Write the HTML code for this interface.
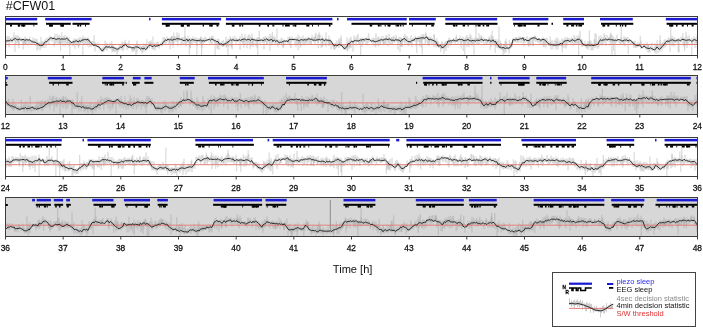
<!DOCTYPE html>
<html><head><meta charset="utf-8"><title>CFW01</title>
<style>
html,body{margin:0;padding:0;background:#fff;}
body{width:703px;height:327px;overflow:hidden;}
svg{display:block;font-family:"Liberation Sans",sans-serif;filter:blur(0.3px);}
</style></head><body>
<svg width="703" height="327" viewBox="0 0 703 327">
<rect width="703" height="327" fill="#fff"/>
<text x="5.8" y="10" font-size="12.5" fill="#111">#CFW01</text>
<path d="M6 39.7V47.7M7 36V43.1M8 37V41.8M9 36V47.3M10 38.4V41.9M11 38V41.9M12 37.4V40.8M13 37.5V42.4M14 37.5V40.3M15 36.6V41.4M16 35.1V44.2M17 38.5V42.8M18 36.4V42.8M19 38.5V45.6M20 36.7V40.2M21 38.5V41.4M22 38.6V41.9M23 38.5V45.2M24 38.9V43.4M25 36.5V43.8M26 38.1V44.3M27 38.1V41.4M28 39.5V45.8M29 39.9V42M30 39.1V44.8M31 40.1V44.1M32 39.8V44M33 37.5V42.8M34 40.4V45M35 38.4V43.5M36 39V45.9M37 39.1V50.6M38 42.9V48.9M39 42.3V46M40 42.4V50.5M41 36.9V48.5M42 41.4V47.9M43 40.8V46.5M44 41.8V48M45 39.7V43.8M46 38.8V47.6M47 37.5V43.5M48 39V41.6M49 36.9V45.1M50 36.3V40.4M51 36.5V40.6M52 36.9V41.8M53 37.6V39.2M54 36.5V46.6M55 33.6V40.4M56 38.1V43.1M57 34.1V42.8M58 36.4V43.8M59 35.2V43.8M60 35.7V45M61 37.9V43.8M62 38V42.9M63 36.4V46.2M64 36.4V42.2M65 35V46.4M66 37V43.6M67 36.3V44.5M68 36.9V40.8M69 37.5V46.8M70 40.1V44.1M71 41V43.2M72 41V44.1M73 40.1V46.7M74 38.2V44.4M75 39.4V48.9M76 38.6V45.7M77 39V45M78 38.6V42.2M79 38.6V47.1M80 36.8V42.7M81 39.5V43.2M82 38.6V43M83 35.7V41.6M84 37.5V45.2M85 37.8V45M86 37.5V44.9M87 38.5V41.1M88 37.7V42.2M89 39.2V43.9M90 40.7V42.7M91 41.8V47M92 41V44.4M93 41.2V45.9M94 35V46.6M95 41.6V51.5M96 43.2V46.9M97 43.8V46.7M98 42.7V47.6M99 45.7V48.4M100 46.1V49.8M101 48.7V51.5M102 47.9V51.4M103 46.5V52.4M104 47.4V51.3M105 40.6V49.6M106 43.9V50M107 42.5V50.7M108 46.4V48.3M109 44.9V48.5M110 42.7V48.7M111 46.2V49.1M112 45V52.4M113 44.8V51.2M114 45.6V51.1M115 47.2V52.4M116 47V51.5M117 48.6V54.8M118 47.2V52.1M119 45.6V50.2M120 45.1V49.9M121 45.1V48.2M122 43.3V50.1M123 43.8V51.1M124 42V49.4M125 39.7V46.4M126 42.4V47M127 43.7V50.1M128 43.1V48.3M129 40.4V47.8M130 45.8V48.3M131 46.1V48.5M132 47.2V51.2M133 46.5V49.9M134 45.1V51.5M135 44.7V50.1M136 46.4V55M137 40.6V52.7M138 44.1V48.7M139 45.4V48.5M140 45.6V49.5M141 46.2V51.5M142 46.6V53.6M143 45.7V52.6M144 47.1V50.4M145 43.8V51.7M146 45.2V50M147 46.9V50.4M148 45.7V47.9M149 41.1V47.6M150 41.8V47.2M151 42.1V46.1M152 43.4V49M153 44.6V49.6M154 42.8V49.6M155 44.2V50.5M156 42.8V47M157 42V47.5M158 41.4V47.4M159 45V48.7M160 45V46.4M161 42.6V45.6M162 41.4V46.5M163 37.5V43.3M164 37V42.6M165 37.9V44.3M166 38.2V43.6M167 36.5V41.1M168 38.9V41.6M169 38.6V44.8M170 37.1V49.1M171 37.3V40.6M172 35.9V45M173 36.4V44.6M174 37.2V43.4M175 36.2V41M176 36.8V42.4M177 32.2V41.6M178 35.7V40.7M179 33.4V41.3M180 37.9V40.2M181 38.5V45.3M182 37.3V44.3M183 36.9V41M184 38.2V44.2M185 35.8V43.1M186 37.9V46.7M187 38.1V43.3M188 35.8V42.8M189 39.3V41.5M190 37.8V47.7M191 38.1V44.2M192 37.9V44.4M193 36.5V42M194 39.6V43.2M195 37.6V42.9M196 37.6V43M197 38V46.1M198 39.3V41.5M199 37.9V41.9M200 38.5V42.5M201 36.6V43.6M202 38.9V47.5M203 38.1V45M204 38.1V41.4M205 36.6V42.8M206 37.9V42M207 39.4V41.3M208 38.9V40.8M209 39.3V42.2M210 36.6V42.9M211 37.8V44.8M212 35.6V43.9M213 35.9V41M214 39.3V42.3M215 38.6V42.8M216 40.7V43.8M217 39.3V48.6M218 38.6V44.3M219 39V49.9M220 42.3V45.3M221 42.8V45.7M222 40.8V46.5M223 44.9V46.7M224 42.9V46.7M225 41.6V45.3M226 36.8V45.2M227 40.5V43.3M228 38.8V44M229 38.8V46.8M230 36V41.8M231 37.6V46.5M232 38.4V49.2M233 36.6V40.3M234 38.9V42.1M235 36.1V41.3M236 38.6V43.9M237 38.1V42.5M238 38.7V41.4M239 39.2V42M240 35.8V49.7M241 39.2V41.4M242 33.8V41.5M243 38.1V41.9M244 36.8V40.8M245 34.2V44.5M246 38.2V40.9M247 37.3V48.2M248 35.2V43.7M249 34.3V42.2M250 35.5V43.7M251 36.8V46.3M252 33.5V42.2M253 39V47M254 37.5V43.8M255 38.5V41M256 39.2V46.1M257 37.4V48.2M258 37.3V42.5M259 37.1V41.6M260 38.6V43.8M261 39.1V41.2M262 38.9V42.7M263 37.1V42.7M264 36.8V49.3M265 36.2V42.4M266 37.2V40.5M267 38.8V44.5M268 36.4V40.9M269 37.3V42.9M270 33.9V41.1M271 35.4V45.5M272 38.6V45.1M273 37.2V43.2M274 35.8V41.4M275 37.1V45M276 38.8V45M277 40.2V44.6M278 40.3V47.3M279 39.4V44M280 40.2V44.8M281 38.2V43.1M282 37.9V45.5M283 41V48.3M284 39.3V42.2M285 40.5V43.8M286 39.9V42.4M287 39.9V41.4M288 36.6V42.9M289 38.2V43.4M290 37.4V46.4M291 38.6V48M292 36.4V41.2M293 38V40.7M294 38.5V41.6M295 39.5V44.8M296 37.1V47M297 37.5V44.8M298 34.5V43M299 36.3V44.5M300 38.9V44.7M301 36.8V46.3M302 39V42M303 35.4V44.5M304 38.1V45.5M305 37.4V43.4M306 37.7V43.7M307 38.1V43.5M308 36.6V42M309 37.1V44.5M310 38.5V42.6M311 37.8V44.7M312 35V40.1M313 37.6V41.2M314 38.8V42.2M315 36.2V45.3M316 32.8V40.9M317 38.4V41.7M318 34.5V43.1M319 34.7V40.5M320 34.5V40.9M321 38.7V47.8M322 35.7V41.4M323 38.7V46.3M324 38V40.6M325 38.3V45.3M326 38V47.1M327 39.2V41.6M328 39.1V43.4M329 35.7V43.6M330 38.9V44.9M331 39.8V49.3M332 41.3V44.2M333 42.9V47.3M334 44.2V48.9M335 43.3V49.6M336 42.4V47.9M337 40.3V46.4M338 43.8V46.5M339 38.1V48M340 42.3V46.6M341 38.2V46M342 44.7V47.1M343 44.6V48.2M344 45.5V49.8M345 44.6V49.9M346 45.8V50.4M347 37.5V49.8M348 41.8V47.3M349 39.6V49.2M350 38.1V47.7M351 36.7V48M352 40.5V43.6M353 39.9V51.7M354 35.4V42.5M355 38V41.3M356 37.4V44.2M357 35.3V42M358 33.7V41.3M359 39.4V43.8M360 37.8V41.1M361 38.4V41.3M362 37.4V46.8M363 38.6V44.1M364 37.8V41.8M365 38.2V41.2M366 39.1V40.4M367 38V45.4M368 39V43.5M369 37.8V41.7M370 38.9V41.9M371 39.6V42M372 38.4V43M373 38.2V43.4M374 37.4V46.3M375 38.4V42.9M376 33.3V45.3M377 38.2V41.7M378 36.4V46.2M379 37.6V45.7M380 39.2V42.7M381 36.5V42.3M382 38.1V41.5M383 36.1V44.4M384 39V44.1M385 37.7V44.5M386 35.4V43.5M387 35.5V41.1M388 37.8V46.5M389 33.7V40.8M390 38V44.7M391 38V44.3M392 37.1V41.8M393 36.5V41.9M394 38.4V42.8M395 38.5V42.4M396 35.1V41M397 38.7V41.8M398 39.4V49.7M399 36.6V42.4M400 37V41.4M401 37.3V44.3M402 38.3V47M403 38.1V42.2M404 36.1V39.9M405 33.9V42.4M406 36V40.5M407 36V43.6M408 37.8V46M409 40.5V45.7M410 38.5V43M411 35.3V44.3M412 38.9V47.1M413 37.9V41.3M414 38.4V41.6M415 36.1V41.5M416 37.5V40.4M417 37.3V41.3M418 36.2V41.7M419 36.4V42.4M420 35.8V41.2M421 37V42.7M422 34.2V40.2M423 34.5V39.9M424 34.3V39.8M425 37V38.6M426 33.5V42.7M427 36V39.1M428 37.2V45.3M429 36.4V40.3M430 36.9V42M431 36.7V44.8M432 38.3V42.8M433 39.7V44.1M434 34.4V47.2M435 39.3V44.2M436 41.6V47.3M437 40.6V46.6M438 42.1V47.5M439 45.9V47.9M440 46.1V48.2M441 45.8V49.3M442 41.4V49M443 45.6V48.7M444 43.5V54.1M445 41.3V48.4M446 41.5V51M447 40.6V44.6M448 40.2V48M449 37.5V43.9M450 38.4V46.1M451 40.4V44M452 39.2V42.6M453 39.6V43M454 37.8V41.5M455 39.1V45M456 37V41.8M457 38.7V41.8M458 39V43.8M459 38.6V41.4M460 35.6V41.8M461 38.5V44.5M462 38.9V41.5M463 36.6V42.4M464 38.9V42.2M465 38.1V45.3M466 36.4V42.4M467 35V46.8M468 37.2V43.8M469 36.9V41M470 39.3V44.7M471 35.3V43.1M472 37.5V46M473 39.7V44M474 38.9V43.1M475 37.4V41.1M476 38.5V43.8M477 38V43.6M478 37.9V44.1M479 33.3V44M480 37.4V42.2M481 35.2V43M482 39.9V42.7M483 38.9V41.6M484 37.4V45.5M485 39.5V41.3M486 38.9V44.1M487 39V44M488 38.6V42.9M489 36.5V43.5M490 38.3V42.2M491 34.9V47M492 37.3V44.2M493 36.3V45.1M494 39.5V45.9M495 39.1V41.5M496 39.2V46.7M497 41V48.1M498 39.4V46.9M499 45.8V48.5M500 43.7V49.8M501 43V49.1M502 46.7V49.7M503 45.8V50.3M504 44.8V51.8M505 41.1V53.5M506 41.3V52M507 45V49.2M508 47.1V49.3M509 47.1V53.5M510 45.5V49.7M511 42.5V47.7M512 41.2V46.3M513 38.2V43.1M514 38.9V41.4M515 37V42.5M516 37.2V40.8M517 37.4V43.1M518 37.9V42.2M519 36.4V42.6M520 36.8V39.8M521 36.8V43.2M522 38.4V41.1M523 37V43.3M524 38.5V46.3M525 39.2V42.7M526 38.5V41.5M527 35.9V40.9M528 39.4V43.8M529 38V44M530 37.3V46M531 37V44.1M532 38V40M533 36.9V46.4M534 36.7V40.2M535 35.7V41.8M536 37.2V40.9M537 38.2V41.8M538 38.6V43.1M539 37.7V41.9M540 39V43.7M541 39.7V41.3M542 38.4V42.1M543 36.9V45.7M544 38.9V47.2M545 38.1V42.6M546 38.2V43.2M547 38V43M548 40.9V44.9M549 41.7V46.1M550 43V46.5M551 43.3V49.6M552 39.8V45.6M553 43.7V49.3M554 40.8V45.9M555 39.2V46.9M556 41V49.8M557 41V47.3M558 38.3V49.5M559 41.9V46.3M560 40.3V45.5M561 43.2V46M562 38.3V46.5M563 39.5V47.7M564 39.5V45.2M565 37.2V47.8M566 39.2V48.6M567 37.1V41.6M568 37.5V43.5M569 38.1V41.5M570 39V42.1M571 38.2V43.6M572 39.1V44.7M573 39.8V42.9M574 35V45.7M575 36.7V44.5M576 37.9V43.4M577 35.7V40.8M578 37.9V43.2M579 34.7V44M580 30.8V41.5M581 39.2V43.5M582 39.1V46.9M583 43.3V46.5M584 42.9V45.8M585 40.7V46.4M586 44.1V47.8M587 43.3V47.5M588 41.1V49.7M589 41.3V47.8M590 42.8V46.6M591 40.7V50.2M592 43.1V50.2M593 44.2V50.2M594 39.4V48.2M595 33.5V45.5M596 43.4V48.3M597 42.6V47M598 40.8V48.8M599 35.8V47.3M600 38.2V42.9M601 35.5V44.4M602 38.4V45.6M603 37.2V45M604 33.2V41.9M605 34.7V42.9M606 38.6V45.7M607 34.9V41.1M608 37.7V40.6M609 36.8V42.1M610 35.3V45.7M611 33.7V41.7M612 34.7V43.6M613 36V41.6M614 38.7V41M615 37.9V43.7M616 38.9V42.8M617 34.7V41.5M618 38.9V40.9M619 39.5V42.8M620 38.8V43.9M621 37.3V45.2M622 39.7V42.4M623 38.7V44.1M624 36.2V45.5M625 37.2V46.4M626 37.9V42M627 36.8V42M628 37.3V42.7M629 39.3V41.4M630 39.3V43.2M631 39.5V45M632 40.6V44M633 41.4V44.4M634 40.9V48M635 40.7V46.3M636 44.1V47.8M637 43.9V47.6M638 42.4V46.8M639 43.4V47.2M640 43V46.9M641 40.5V49.3M642 45.7V48.7M643 46V47.9M644 43.2V48.3M645 43.9V47.9M646 44.9V50.2M647 42.2V49.6M648 43.8V52.5M649 45.1V52.4M650 47.2V52.4M651 45.4V49.5M652 42.6V50.9M653 48.5V50.7M654 46.8V50.6M655 43.3V52.5M656 47V54.1M657 43.8V48.4M658 44.1V53.2M659 46.2V50.1M660 40.4V52M661 45.3V49M662 43.6V50.4M663 42.2V47.8M664 40.4V48.4M665 39V46.8M666 41.2V46.7M667 40.1V44.4M668 38.5V43M669 37.3V44.8M670 38.5V43.5M671 37.7V42.5M672 35.6V41.3M673 39.7V44.6M674 37.5V46.9M675 39.5V42.5M676 38.7V42.3M677 38.7V42.7M678 39V43.4M679 38V52.6M680 39V40.8M681 36.5V42.9M682 38.6V40.7M683 37.5V45.4M684 37.7V47M685 37.6V46M686 31.8V42.9M687 36.1V48.1M688 38.9V44.4M689 35.4V41.6M690 38.6V41.7M691 39.4V41.2M692 37.7V43.7M693 39.7V41.2M694 36.2V41.3M695 37.7V48M696 39V42.7M697 36V44.4" fill="none" stroke="#cecece" stroke-width="1"/>
<path d="M5.8 41.3V45.4M10.1 40.4V41.7M11.7 40V43M13.9 39.5V32.3M15 39.3V52M17.9 39.4V35.2M18.8 39.4V48.2M21.7 39.5V40.8M23.2 39.5V49.4M24.9 39.6V44.1M25.9 39.9V43.9M29 40.6V42.4M29.8 40.9V36.5M37.2 43.6V45.9M41.3 45.3V42.5M44.8 42.8V43.8M54.9 39V44.4M59.9 39.6V44.9M60.7 39.6V50.7M61.8 39.6V32.2M67.9 39.6V43.7M69.9 41.3V55M70.7 42.1V44.2M75.1 42.1V41.1M77.3 41.4V42.5M78.3 41.1V48.5M78.8 40.8V45.6M79.8 40.5V41.8M80.9 40.4V43.6M82 40.3V37.9M82.9 40.2V55M87.3 39.7V45.9M88 39.6V37.3M89.1 40.6V47.7M91.9 43.7V45.9M93.8 45V46.1M100.2 48.5V49.6M103 49.9V48.5M106.3 47.3V45.9M111.8 47.3V41.1M113.2 47.8V52M122.1 46.6V41.2M125.1 44.7V43.6M132.9 48V52M137.1 47.4V43M139.2 47.7V46.4M140.9 48.4V47.4M143 49.1V45.9M143.9 49.4V43.1M146.8 47.8V39.3M149.3 45.7V48.3M151 45V40.2M152.9 45.7V36.6M153.8 46.1V43.6M163 42.5V44.6M164.9 40.5V42.3M170 39.9V43.1M170.9 39.7V41M171.7 39.6V36.2M173 39.5V47.9M173.8 39.3V32.4M177.9 38.7V46.3M184.9 40.5V26.5M186 40.5V42.5M189.2 40.5V54.7M190.2 40.5V48.3M196.9 40.5V55M200.1 40.5V44M200.9 40.5V36.6M201.7 40.5V55M204.2 40.5V42.4M211.8 39.6V37.7M215.1 40.9V55M217.9 42.2V48.7M222 44.9V46.4M223.3 45.6V40M226.2 43V47.5M226.7 42.2V47.3M228 41.3V55M231.9 39.9V47.3M237.1 39.8V41.5M241.3 40V42.2M242.1 39.9V42.2M243 39.9V45M243.9 39.8V47.8M245 39.8V41.9M250.1 39.5V48.9M252.3 39.6V44.3M252.9 39.7V41M257 40V42.1M257.8 40.1V55M259.2 40.1V31.1M259.7 40.2V38.1M264.9 39.8V42.3M266.9 39.6V44M268.9 39.5V40.8M269.9 39.4V50.7M272.3 39.9V32.1M275.8 40.9V42.5M277 41.2V28.4M283.2 41.7V46.5M283.8 41.4V46.6M288 40.3V44.5M288.9 40.1V42.7M289.8 39.8V36.2M290.8 39.9V41.3M298.1 40.4V50.3M300.2 40.5V47.8M304.9 39.9V41.7M307 39.6V41.3M311 39.3V44.9M313.7 39.4V37M315.2 39.5V34.6M317.2 39.6V38.2M318.2 39.7V48.3M319.1 39.7V32.3M322.2 39.8V47.4M322.7 39.9V43M325.1 39.9V41.3M326 39.9V32.3M329 40V46.1M330 40V44M333.2 43.8V45.3M334.1 45.1V50M334.8 46.4V43.5M339 45V40.6M341 45.4V35.4M344.8 48.1V46M347.7 43.9V51.7M350 42.9V47M353.8 41V44.9M359 40.1V44.6M360.7 40V55M361.8 39.9V42M363.9 39.7V42.1M365.9 39.8V44.9M367 39.9V36.7M368.8 40.3V33.1M373.8 41.1V42.6M375.7 41.1V47.4M378.9 40.6V38M380.3 40.5V44.1M383.8 39.8V44.2M385.2 39.6V41.3M386.3 39.7V38.2M388.8 39.8V41.9M390 39.9V41M391.3 40V37.3M392.3 40V45M394 40.1V35.7M396.1 40.3V37.3M397.8 40.4V41.4M398.8 40.4V42.3M400 40.5V52.3M400.8 40.1V47M401.8 39.8V46.1M404.8 38.7V45.2M405.8 39.6V41M407 40.5V41.9M410.9 41V42.9M413.1 39.9V41M414.2 39.3V41.4M416.1 38.6V46.2M416.8 38.5V53.1M419.8 38.3V46.6M421.2 38.2V47.8M422.2 38.1V54.4M425.1 37.9V44.6M425.8 38.1V32.2M428.1 38.6V44.3M429.2 38.9V46M429.8 39.1V40.5M434.1 41.2V34.8M435.1 42V40.9M435.7 43.5V45.2M436.8 45V38.2M438.2 46.5V41.3M438.8 46.7V44.6M440.8 47V52M442 47.2V42.3M444.1 47.5V45.4M448.8 41.2V42.6M450 41.1V42.3M451.3 41V44.6M454 40.6V41.9M456.3 40.4V34.8M457.8 40.1V38.6M461.1 39.7V48.6M463.3 39.7V50.9M464.8 39.9V55M468.8 40.4V47.3M470.1 40.5V33.5M472.1 40.5V44.1M474 40.5V54.6M476 40.5V27.1M479.1 40.5V39.2M481.8 40.5V35.8M490.1 40.5V49.9M490.8 40.5V42.4M492.1 40.5V30.5M495.2 40.5V52.9M495.8 42.2V45.4M497 44V41.4M499 47.5V26.5M500.2 47.8V40.5M501.2 48V43.1M503.1 48.5V55M504.2 48.3V44.7M506 47.8V38.7M509.3 49V39.8M511.1 46V47.4M511.9 43V46.8M512.9 40V41M515.1 39.6V41.5M517.3 39.3V41.4M522.8 39.4V37.7M524.9 39.8V37.1M528.1 40.5V46.1M528.8 40.1V46.8M532.9 38.6V46M535 37.9V35.5M539.1 40V41.6M540.9 40.3V44.3M543 40V38.4M543.9 39.8V46.7M545.9 40.9V48.4M550.1 44.3V36.4M550.9 44.7V41.4M556.8 45V37.3M560.2 44.3V45.4M561.1 44V42.2M562.2 43V52.4M564.8 41.2V42.5M566.8 40.5V46M569.9 40.5V42.6M571.2 40.5V38.9M572.1 40.5V37.2M575.1 40.5V39.4M577.1 39.8V44.9M578.7 39.1V55M581 40.7V46M581.8 42.7V45M582.9 44.7V43.1M586.9 45V48.9M589.3 45.1V30.3M589.9 45.2V40.6M595 44.9V39.7M596.2 44.8V33.8M610.7 39.7V32.7M611.9 39.8V55M613.3 39.9V50.9M614.9 40V55M621.2 40.5V26.5M623.2 40.6V42.6M628.2 40.7V53.8M629.1 40.8V42.3M633.1 43.4V45.3M633.8 44.7V46.6M635.7 46V47.8M640.2 45.8V35.7M644.8 46.5V44.5M648.2 49V45M656 48.3V45.2M657.1 47.5V40M660.1 48.5V35.2M662.1 46.8V42.7M667.3 41.2V43.4M670 40.5V51.6M670.8 40.5V26.5M672 40.5V46M674 40.5V37.3M675.9 40.4V42.7M678.2 40.1V51.7M682.8 39.7V33.2M684.7 39.9V51M687 40.2V44.8M691.8 40.5V55M692.9 40.5V45.2M694.9 40.5V38.8M696.2 40.5V43.1M697.2 40.5V47.6" fill="none" stroke="#b4b4b4" stroke-width="0.6"/>
<line x1="5.5" y1="44.5" x2="697.5" y2="44.5" stroke="#e67e78" stroke-width="1"/>
<path d="M5.5 41.3 6.8 40.8 8 40.9 9.2 40.8 10.5 39.9 11.8 40.6 13 40.2 14.2 39 15.5 38.4 16.8 39.5 18 40 19.2 39 20.5 39.8 21.8 39.8 23 39.2 24.2 40 25.5 40.1 26.8 39.5 28 40.3 29.2 39.5 30.5 40.6 31.8 41.4 33 42.1 34.2 42.1 35.5 42.5 36.8 43.3 38 43.4 39.2 45.3 40.5 45.6 41.8 45.3 43 45.2 44.2 43 45.5 41.7 46.8 41.7 48 40.3 49.2 39 50.5 37.9 51.8 38.1 53 39 54.2 37.9 55.5 39.3 56.8 39.3 58 38.8 59.2 38.6 60.5 39.3 61.8 38.9 63 39.1 64.2 39.1 65.5 39 66.8 38.1 68 39.6 69.2 40.5 70.5 41.6 71.8 42.9 73 41.5 74.2 42.3 75.5 40.8 76.8 40.9 78 42 79.2 40.7 80.5 41.4 81.8 40.1 83 40 84.2 39.6 85.5 39.6 86.8 39.7 88 39.3 89.2 41 90.5 42.1 91.8 43.6 93 45 94.2 45.3 95.5 44.9 96.8 46.4 98 46.6 99.2 47.2 100.5 48.9 101.8 50.8 103 50.6 104.2 48.7 105.5 46.8 106.8 46.9 108 47.2 109.2 46.8 110.5 47.6 111.8 47 113 47.5 114.2 48 115.5 48.4 116.8 49.2 118 49.2 119.2 48.2 120.5 47.1 121.8 47.6 123 45.7 124.2 45.3 125.5 44.3 126.8 45.9 128 47.1 129.2 47.1 130.5 47.2 131.8 47.9 133 47.5 134.2 48.2 135.5 46.9 136.8 47 138 47.2 139.2 48 140.5 49.1 141.8 48.1 143 49.2 144.2 48.1 145.5 49.4 146.8 48.7 148 46.5 149.2 45.3 150.5 45.3 151.8 46.2 153 46.7 154.2 45.5 155.5 46.2 156.8 46 158 45.6 159.2 45.3 160.5 44.4 161.8 44.5 163 42.6 164.2 41.1 165.5 40 166.8 40.6 168 38.9 169.2 40 170.5 39.3 171.8 40.2 173 40 174.2 39.3 175.5 39.4 176.8 38.6 178 38.9 179.2 38.8 180.5 39.4 181.8 39.4 183 40.5 184.2 40.5 185.5 40.2 186.8 39.1 188 41.1 189.2 39.3 190.5 40.6 191.8 39.9 193 39.7 194.2 40.1 195.5 40.4 196.8 40.5 198 40.7 199.2 40.6 200.5 39.8 201.8 41.3 203 40.4 204.2 41.1 205.5 40.5 206.8 40.1 208 39.9 209.2 39.1 210.5 40.1 211.8 39 213 39.7 214.2 40.3 215.5 40.8 216.8 41.7 218 41.5 219.2 43.9 220.5 44.1 221.8 43.8 223 45.1 224.2 44.2 225.5 43.9 226.8 42.6 228 42 229.2 41.1 230.5 39.9 231.8 40.3 233 39.6 234.2 40.4 235.5 40.4 236.8 40.3 238 40.6 239.2 39.6 240.5 40.4 241.8 39.5 243 39.3 244.2 39 245.5 39.4 246.8 40.2 248 39.3 249.2 39.5 250.5 40.5 251.8 38.8 253 39.7 254.2 39.8 255.5 40.3 256.8 40.2 258 40.5 259.2 40.5 260.5 40.3 261.8 39.9 263 40.8 264.2 39.7 265.5 39.9 266.8 38.7 268 40.2 269.2 40.2 270.5 39.8 271.8 39.4 273 41.5 274.2 39.9 275.5 41.2 276.8 40.7 278 41.3 279.2 42.9 280.5 42.3 281.8 42.2 283 41.3 284.2 40.9 285.5 41.2 286.8 41 288 41.5 289.2 39.5 290.5 39.5 291.8 39.4 293 39.6 294.2 39.3 295.5 39.6 296.8 40 298 39.9 299.2 41 300.5 39.8 301.8 39.6 303 40.3 304.2 39.7 305.5 39.8 306.8 39.9 308 38.9 309.2 38.9 310.5 39.3 311.8 39.3 313 40.3 314.2 40 315.5 40.3 316.8 39.9 318 39.8 319.2 39.5 320.5 39.9 321.8 39.2 323 39.3 324.2 40.9 325.5 39.8 326.8 40.2 328 40.2 329.2 40.3 330.5 40.6 331.8 42.4 333 44.5 334.2 45.6 335.5 45.1 336.8 45.9 338 45.1 339.2 44.3 340.5 45 341.8 45.5 343 47 344.2 48.7 345.5 48 346.8 46.9 348 43.7 349.2 43.8 350.5 42.3 351.8 41 353 42.2 354.2 40.7 355.5 40.6 356.8 40.9 358 41 359.2 40.7 360.5 39.9 361.8 40 363 39.3 364.2 40.1 365.5 38.9 366.8 39.4 368 39.5 369.2 39.3 370.5 40.5 371.8 41.3 373 40.5 374.2 41.4 375.5 41.6 376.8 41.4 378 40.9 379.2 40.6 380.5 39.9 381.8 39.7 383 40.3 384.2 39.3 385.5 39.1 386.8 39.2 388 39.6 389.2 38.8 390.5 39.6 391.8 40.4 393 39.9 394.2 40.7 395.5 39.7 396.8 40 398 39.9 399.2 40.2 400.5 41.5 401.8 39.7 403 39.7 404.2 38.2 405.5 39.7 406.8 40.4 408 41.7 409.2 41.6 410.5 41.8 411.8 40.6 413 40.2 414.2 40 415.5 38.2 416.8 38.7 418 38.6 419.2 38.4 420.5 37.9 421.8 37.9 423 37.6 424.2 38.3 425.5 37.6 426.8 36.9 428 39 429.2 39.7 430.5 39.4 431.8 39.9 433 40.3 434.2 40.9 435.5 41.4 436.8 43.7 438 46 439.2 46 440.5 45.3 441.8 47.5 443 47.5 444.2 46.4 445.5 45.7 446.8 43.8 448 41 449.2 41.1 450.5 40.6 451.8 41 453 39.8 454.2 40.5 455.5 40.8 456.8 40.9 458 39.8 459.2 39.3 460.5 39.5 461.8 39.3 463 40.2 464.2 40.7 465.5 40.3 466.8 40.1 468 39.4 469.2 40.4 470.5 40.8 471.8 40.9 473 40.2 474.2 40.6 475.5 41.1 476.8 40.2 478 40.2 479.2 40.5 480.5 39.8 481.8 38.9 483 40.7 484.2 40 485.5 40 486.8 40 488 41.2 489.2 39.7 490.5 41.2 491.8 41.2 493 39.8 494.2 41.8 495.5 41.5 496.8 44.1 498 44.9 499.2 47.3 500.5 47 501.8 48.3 503 47.2 504.2 48.1 505.5 48.4 506.8 47.9 508 48.2 509.2 48.1 510.5 46.7 511.8 44.3 513 39.6 514.2 39.7 515.5 39.9 516.8 39.1 518 39.9 519.2 39.2 520.5 38.7 521.8 38.8 523 37.7 524.2 40.5 525.5 39.2 526.8 40.8 528 40.3 529.2 40.7 530.5 38.9 531.8 38.3 533 37.8 534.2 37.9 535.5 38.2 536.8 39.1 538 39.8 539.2 38.7 540.5 40.3 541.8 39.9 543 39.3 544.2 39.7 545.5 40.4 546.8 42.1 548 43.5 549.2 44.1 550.5 44.8 551.8 44.6 553 44.9 554.2 45.1 555.5 45 556.8 45 558 44.6 559.2 44.9 560.5 43.1 561.8 44.4 563 42.7 564.2 41.2 565.5 40.7 566.8 40.6 568 40.3 569.2 41.3 570.5 41 571.8 40.2 573 39.6 574.2 41.1 575.5 40.8 576.8 39.8 578 39.3 579.2 39 580.5 40.1 581.8 42.5 583 44.5 584.2 45 585.5 45.3 586.8 45.3 588 44.8 589.2 45.3 590.5 45.4 591.8 45.1 593 45.6 594.2 45.3 595.5 45.2 596.8 44.4 598 44.3 599.2 41.5 600.5 39.7 601.8 40.6 603 39.8 604.2 40.1 605.5 38.8 606.8 40.1 608 39.7 609.2 39 610.5 39.8 611.8 39.7 613 40 614.2 40.3 615.5 40.2 616.8 40.5 618 39.5 619.2 39.7 620.5 40.2 621.8 40.9 623 40.9 624.2 40.1 625.5 40.2 626.8 39.9 628 41 629.2 40 630.5 40.5 631.8 41.5 633 43 634.2 43.8 635.5 45 636.8 45.4 638 45.6 639.2 44.9 640.5 45.8 641.8 47.9 643 46.7 644.2 45.9 645.5 47.5 646.8 48 648 48.3 649.2 48.6 650.5 47.9 651.8 48.7 653 49.2 654.2 49.9 655.5 49.3 656.8 47.1 658 47.9 659.2 49.4 660.5 48.7 661.8 46.9 663 45.5 664.2 44.6 665.5 42.4 666.8 40.9 668 41.1 669.2 41.5 670.5 40 671.8 40.1 673 39.7 674.2 41 675.5 40.7 676.8 40.3 678 39.9 679.2 40.1 680.5 40.9 681.8 39.4 683 39.6 684.2 39.7 685.5 40.3 686.8 40.2 688 40 689.2 39.8 690.5 40.2 691.8 41.5 693 40.2 694.2 39.6 695.5 40.1 696.8 40.7" fill="none" stroke="#1e1e1e" stroke-width="0.9"/>
<rect x="6" y="17.9" width="31.2" height="2.5" fill="#1a1ad2"/>
<rect x="45.2" y="17.9" width="46.4" height="2.5" fill="#1a1ad2"/>
<rect x="149" y="17.9" width="1.5" height="2.5" fill="#1a1ad2"/>
<rect x="161.9" y="17.9" width="59.2" height="2.5" fill="#1a1ad2"/>
<rect x="225.9" y="17.9" width="106.5" height="2.5" fill="#1a1ad2"/>
<rect x="337" y="17.9" width="1.5" height="2.5" fill="#1a1ad2"/>
<rect x="347" y="17.9" width="59.8" height="2.5" fill="#1a1ad2"/>
<rect x="409" y="17.9" width="26.8" height="2.5" fill="#1a1ad2"/>
<rect x="445.3" y="17.9" width="51.9" height="2.5" fill="#1a1ad2"/>
<rect x="512.6" y="17.9" width="35.8" height="2.5" fill="#1a1ad2"/>
<rect x="563.2" y="17.9" width="20.8" height="2.5" fill="#1a1ad2"/>
<rect x="600" y="17.9" width="32.8" height="2.5" fill="#1a1ad2"/>
<rect x="665.8" y="17.9" width="31.2" height="2.5" fill="#1a1ad2"/>
<g fill="#000"><rect x="6" y="22.8" width="31.5" height="2"/><rect x="10" y="24.5" width="2" height="2"/><rect x="17.8" y="24.5" width="2" height="2"/><rect x="18.1" y="24.5" width="1" height="2"/><rect x="19.4" y="24.5" width="0.8" height="2"/><rect x="21.2" y="24.5" width="3" height="2"/><rect x="22.8" y="24.5" width="2.5" height="2"/><rect x="22.9" y="24.5" width="0.8" height="2"/><rect x="33.5" y="24.5" width="0.8" height="2"/><rect x="46" y="22.8" width="24.8" height="2"/><rect x="49.1" y="24.5" width="2" height="2"/><rect x="49.3" y="24.5" width="3" height="2"/><rect x="51" y="24.5" width="2" height="2"/><rect x="60.4" y="24.5" width="2" height="2"/><rect x="60.7" y="24.5" width="3" height="2"/><rect x="62" y="24.5" width="2" height="2"/><rect x="72.5" y="22.8" width="17.1" height="2"/><rect x="77.2" y="24.5" width="2" height="2"/><rect x="79.9" y="24.5" width="1.3" height="2"/><rect x="85" y="24.5" width="1" height="2"/><rect x="161.9" y="22.8" width="57.5" height="2"/><rect x="165.6" y="24.5" width="1.6" height="2"/><rect x="165.9" y="24.5" width="2.5" height="2"/><rect x="166.6" y="24.5" width="2.5" height="2"/><rect x="169" y="24.5" width="0.8" height="2"/><rect x="180.7" y="24.5" width="3" height="2"/><rect x="181.3" y="24.5" width="2.5" height="2"/><rect x="181.9" y="24.5" width="1.6" height="2"/><rect x="186.8" y="24.5" width="3" height="2"/><rect x="202.7" y="24.5" width="1.3" height="2"/><rect x="209.2" y="24.5" width="3" height="2"/><rect x="211.1" y="24.5" width="1.6" height="2"/><rect x="216.5" y="24.5" width="2" height="2"/><rect x="225.9" y="22.8" width="106.5" height="2"/><rect x="231.8" y="24.5" width="2" height="2"/><rect x="232.9" y="24.5" width="1.6" height="2"/><rect x="239.2" y="24.5" width="1.6" height="2"/><rect x="241.7" y="24.5" width="0.8" height="2"/><rect x="242.2" y="24.5" width="1" height="2"/><rect x="258.8" y="24.5" width="1.6" height="2"/><rect x="267.3" y="24.5" width="1.6" height="2"/><rect x="268" y="24.5" width="1" height="2"/><rect x="272.4" y="24.5" width="1" height="2"/><rect x="273.3" y="24.5" width="1" height="2"/><rect x="282.5" y="24.5" width="1" height="2"/><rect x="285" y="24.5" width="2" height="2"/><rect x="286.8" y="24.5" width="3" height="2"/><rect x="292.7" y="24.5" width="1" height="2"/><rect x="294.2" y="24.5" width="2" height="2"/><rect x="295.2" y="24.5" width="1" height="2"/><rect x="306.3" y="24.5" width="3" height="2"/><rect x="312" y="24.5" width="1" height="2"/><rect x="317.9" y="24.5" width="0.8" height="2"/><rect x="328.9" y="24.5" width="1.6" height="2"/><rect x="351.5" y="22.8" width="55.3" height="2"/><rect x="369.7" y="24.5" width="2.5" height="2"/><rect x="377.8" y="24.5" width="2" height="2"/><rect x="380.4" y="24.5" width="1" height="2"/><rect x="384.7" y="24.5" width="1" height="2"/><rect x="387.5" y="24.5" width="3" height="2"/><rect x="388.8" y="24.5" width="1" height="2"/><rect x="395.6" y="24.5" width="1" height="2"/><rect x="396.7" y="24.5" width="2.5" height="2"/><rect x="400.1" y="24.5" width="1.3" height="2"/><rect x="402.7" y="24.5" width="1" height="2"/><rect x="409" y="22.8" width="25.6" height="2"/><rect x="411.9" y="24.5" width="1" height="2"/><rect x="425.8" y="24.5" width="1" height="2"/><rect x="431.3" y="24.5" width="2.5" height="2"/><rect x="445.3" y="22.8" width="52.2" height="2"/><rect x="452.9" y="24.5" width="2.5" height="2"/><rect x="454.3" y="24.5" width="1" height="2"/><rect x="456" y="24.5" width="1.3" height="2"/><rect x="462.6" y="24.5" width="2.5" height="2"/><rect x="467.6" y="24.5" width="1" height="2"/><rect x="475.5" y="24.5" width="1" height="2"/><rect x="477.6" y="24.5" width="3" height="2"/><rect x="482.7" y="24.5" width="1.6" height="2"/><rect x="486.2" y="24.5" width="0.8" height="2"/><rect x="487.1" y="24.5" width="2" height="2"/><rect x="513.2" y="22.8" width="34.7" height="2"/><rect x="514.2" y="24.5" width="0.8" height="2"/><rect x="517.7" y="24.5" width="3" height="2"/><rect x="518.8" y="24.5" width="1.3" height="2"/><rect x="519.7" y="24.5" width="3" height="2"/><rect x="523.3" y="24.5" width="1" height="2"/><rect x="524" y="24.5" width="2" height="2"/><rect x="537.5" y="24.5" width="2" height="2"/><rect x="551.5" y="22.8" width="1.5" height="2"/><rect x="563.2" y="22.8" width="20.8" height="2"/><rect x="566.4" y="24.5" width="2" height="2"/><rect x="571.1" y="24.5" width="3" height="2"/><rect x="575.8" y="24.5" width="1.6" height="2"/><rect x="578.4" y="24.5" width="0.8" height="2"/><rect x="579.1" y="24.5" width="3" height="2"/><rect x="601" y="22.8" width="32.3" height="2"/><rect x="602.3" y="24.5" width="2" height="2"/><rect x="603.2" y="24.5" width="2" height="2"/><rect x="607.3" y="24.5" width="2" height="2"/><rect x="615.8" y="24.5" width="1" height="2"/><rect x="619.9" y="24.5" width="1.3" height="2"/><rect x="622" y="24.5" width="1.3" height="2"/><rect x="624.8" y="24.5" width="1.6" height="2"/><rect x="625.1" y="24.5" width="0.8" height="2"/><rect x="666.6" y="22.8" width="30.4" height="2"/><rect x="669.1" y="24.5" width="1.6" height="2"/><rect x="670.3" y="24.5" width="3" height="2"/><rect x="670.9" y="24.5" width="1.6" height="2"/><rect x="675.9" y="24.5" width="1.6" height="2"/><rect x="681.7" y="24.5" width="2" height="2"/><rect x="687" y="24.5" width="1" height="2"/><rect x="691.6" y="24.5" width="2" height="2"/></g>
<rect x="5.5" y="16.5" width="692" height="39" fill="none" stroke="#3c3c3c" stroke-width="1"/>
<line x1="5.5" y1="55.5" x2="5.5" y2="58.5" stroke="#3c3c3c" stroke-width="1"/>
<text transform="translate(5.3 69.8) scale(0.85 1)" font-size="9.9" text-anchor="middle" fill="#111" stroke="#111" stroke-width="0.3">0</text>
<line x1="63.2" y1="55.5" x2="63.2" y2="58.5" stroke="#3c3c3c" stroke-width="1"/>
<text transform="translate(63 69.8) scale(0.85 1)" font-size="9.9" text-anchor="middle" fill="#111" stroke="#111" stroke-width="0.3">1</text>
<line x1="120.8" y1="55.5" x2="120.8" y2="58.5" stroke="#3c3c3c" stroke-width="1"/>
<text transform="translate(120.6 69.8) scale(0.85 1)" font-size="9.9" text-anchor="middle" fill="#111" stroke="#111" stroke-width="0.3">2</text>
<line x1="178.5" y1="55.5" x2="178.5" y2="58.5" stroke="#3c3c3c" stroke-width="1"/>
<text transform="translate(178.3 69.8) scale(0.85 1)" font-size="9.9" text-anchor="middle" fill="#111" stroke="#111" stroke-width="0.3">3</text>
<line x1="236.2" y1="55.5" x2="236.2" y2="58.5" stroke="#3c3c3c" stroke-width="1"/>
<text transform="translate(236 69.8) scale(0.85 1)" font-size="9.9" text-anchor="middle" fill="#111" stroke="#111" stroke-width="0.3">4</text>
<line x1="293.8" y1="55.5" x2="293.8" y2="58.5" stroke="#3c3c3c" stroke-width="1"/>
<text transform="translate(293.6 69.8) scale(0.85 1)" font-size="9.9" text-anchor="middle" fill="#111" stroke="#111" stroke-width="0.3">5</text>
<line x1="351.5" y1="55.5" x2="351.5" y2="58.5" stroke="#3c3c3c" stroke-width="1"/>
<text transform="translate(351.3 69.8) scale(0.85 1)" font-size="9.9" text-anchor="middle" fill="#111" stroke="#111" stroke-width="0.3">6</text>
<line x1="409.2" y1="55.5" x2="409.2" y2="58.5" stroke="#3c3c3c" stroke-width="1"/>
<text transform="translate(409 69.8) scale(0.85 1)" font-size="9.9" text-anchor="middle" fill="#111" stroke="#111" stroke-width="0.3">7</text>
<line x1="466.8" y1="55.5" x2="466.8" y2="58.5" stroke="#3c3c3c" stroke-width="1"/>
<text transform="translate(466.6 69.8) scale(0.85 1)" font-size="9.9" text-anchor="middle" fill="#111" stroke="#111" stroke-width="0.3">8</text>
<line x1="524.5" y1="55.5" x2="524.5" y2="58.5" stroke="#3c3c3c" stroke-width="1"/>
<text transform="translate(524.3 69.8) scale(0.85 1)" font-size="9.9" text-anchor="middle" fill="#111" stroke="#111" stroke-width="0.3">9</text>
<line x1="582.2" y1="55.5" x2="582.2" y2="58.5" stroke="#3c3c3c" stroke-width="1"/>
<text transform="translate(582 69.8) scale(0.85 1)" font-size="9.9" text-anchor="middle" fill="#111" stroke="#111" stroke-width="0.3">10</text>
<line x1="639.8" y1="55.5" x2="639.8" y2="58.5" stroke="#3c3c3c" stroke-width="1"/>
<text transform="translate(639.6 69.8) scale(0.85 1)" font-size="9.9" text-anchor="middle" fill="#111" stroke="#111" stroke-width="0.3">11</text>
<line x1="697.5" y1="55.5" x2="697.5" y2="58.5" stroke="#3c3c3c" stroke-width="1"/>
<text transform="translate(697.3 69.8) scale(0.85 1)" font-size="9.9" text-anchor="middle" fill="#111" stroke="#111" stroke-width="0.3">12</text>
<rect x="5.5" y="75.5" width="692" height="39" fill="#d7d7d7"/>
<path d="M6 101.5V103.8M7 100.1V105.9M8 102.8V106.7M9 103.8V106.2M10 102.5V107.3M11 103.9V108.7M12 105.5V108.9M13 98.7V108.3M14 103.2V109.8M15 104.3V109.3M16 104V108.6M17 106.9V109.9M18 106V110.8M19 107.5V110.4M20 106.7V111M21 106.5V109.8M22 106.9V109.6M23 106V110.1M24 102.8V112.4M25 104.7V110.6M26 101.1V109.7M27 106.7V112.6M28 103.6V111.1M29 105.9V108.9M30 106.6V110.8M31 107.2V112.3M32 106V110.9M33 106.1V109.7M34 106.8V111M35 107.4V109.3M36 104.5V110.5M37 101.2V109.9M38 106.2V111.1M39 107V109.4M40 101.3V109.1M41 102.9V109.2M42 103.4V111.2M43 105.6V110.5M44 102.4V108.1M45 100.8V106.6M46 103.2V108.2M47 102V105.4M48 99.2V106.7M49 101.1V106.2M50 95.9V109.8M51 101.9V104.7M52 101.4V105.7M53 100.4V103.9M54 96.1V111.4M55 101V106.8M56 97.4V103.4M57 96.8V102.9M58 100.2V105.6M59 98.5V101.7M60 97.5V102.3M61 98.7V105.9M62 99V103.7M63 97.8V108.4M64 100.2V102.1M65 99.9V106.3M66 96.5V109.6M67 98.5V103.8M68 98.6V104.3M69 100V102.1M70 99.2V104.9M71 101.2V104.4M72 99.5V106.2M73 102.1V107.6M74 103V109.3M75 104V108.4M76 103.4V107.5M77 101.7V109.1M78 102.6V108.2M79 106.1V111.4M80 101.2V108.1M81 103V111.3M82 102.8V108.7M83 104.1V109M84 103.8V112.2M85 106.7V111.1M86 106V110.2M87 104.9V108.9M88 103.9V113.2M89 106V109.7M90 102.8V109.6M91 103.1V112.3M92 108.1V110.6M93 105.3V109.5M94 103.1V110.1M95 103V110.7M96 102.9V111.3M97 103.2V108.5M98 99.5V108.5M99 102.7V108.1M100 102.5V110M101 100V104.8M102 102.7V104.5M103 98.7V105.1M104 98.4V105.2M105 97.7V105.2M106 98.4V104.5M107 97.2V104.5M108 97.7V108.4M109 98.3V102.4M110 98.1V102.7M111 99.2V102.2M112 100.6V108.8M113 101V104.3M114 99.3V103.4M115 99.3V103.5M116 99.7V101.6M117 99.3V100.7M118 98.2V104.3M119 97.8V105.4M120 99.9V107.8M121 100.8V105.5M122 100.6V105.8M123 101.6V108.6M124 101.5V104.9M125 96.4V107.3M126 102.7V109.9M127 102.4V106M128 100.5V106.1M129 100.9V106.2M130 103.6V107.1M131 97.8V108.5M132 101.9V105.4M133 100.3V106.7M134 97.1V106.1M135 101.1V105.3M136 101.7V103.9M137 98.2V103.6M138 98.6V107.5M139 100.8V105.5M140 99.9V104.3M141 101.3V109.7M142 100.1V106.2M143 99.9V106.4M144 101.5V106M145 100.8V108.1M146 98.4V104M147 95.9V107M148 98V104.8M149 95.8V102.8M150 97.9V102.3M151 99.2V106M152 98.1V104.4M153 103.1V105.5M154 101.1V106.7M155 103.2V109.7M156 107.3V110.7M157 105.8V110.8M158 103.4V109.7M159 105.9V110.1M160 103.3V109.2M161 107.2V112.7M162 105.5V113.5M163 101.4V109.4M164 105.6V110.3M165 100.3V111.5M166 103V110M167 103.1V108.4M168 105.8V108.6M169 103.7V112.8M170 105.3V109.7M171 106.4V111.7M172 101V109.5M173 105.7V112.3M174 101V109.7M175 104.6V108.7M176 102.3V110.6M177 102.6V106.4M178 102.3V106.9M179 101.1V108.3M180 99.7V104.8M181 96.9V105.9M182 100.3V103.1M183 99.2V104.2M184 98.6V102M185 98.3V102M186 98.1V101.5M187 92V100.6M188 98.7V102.3M189 98.8V101.7M190 99.2V105.5M191 100.1V103.6M192 97.6V103.5M193 101.2V106M194 99.2V106.5M195 103V105.7M196 101.9V108M197 97.4V107.9M198 100V109.4M199 104.9V110M200 103V107.4M201 103V109.4M202 102.3V111.3M203 104.6V106.8M204 101V110.7M205 104.5V106.6M206 102.1V108.3M207 103.2V107.3M208 98.3V107.4M209 101.3V109.9M210 98.3V103.2M211 95.2V101.4M212 98.6V101.9M213 99.3V102M214 95.8V101.2M215 96.8V106.4M216 98.8V103.5M217 97.6V104.6M218 97V107M219 98.6V101.5M220 94.4V103.4M221 96V100.5M222 98.1V102.8M223 95.1V101.3M224 95.2V102.4M225 94.4V101.7M226 96V103.7M227 97.8V102.3M228 98V101.2M229 97.7V101.5M230 99.3V102.5M231 96.7V102.5M232 98.5V104.7M233 98.2V101M234 98.4V101M235 97.7V101M236 97.4V106.7M237 97.6V101.9M238 97.6V106M239 99.7V104.3M240 98.6V102.9M241 99.2V108.3M242 98.7V102.2M243 99V103.9M244 99.8V104M245 97.9V101.9M246 98.5V105.8M247 99.3V103.4M248 96.9V106.8M249 99.7V109.3M250 97.5V103.1M251 96.7V102.6M252 95.9V102.5M253 97V102.1M254 99.7V105.3M255 96.4V101.6M256 99.8V103.2M257 97.9V104.4M258 96V102M259 96.5V103.9M260 96.4V102.9M261 99.8V105.1M262 99.9V103.3M263 101.3V105.3M264 101.5V105.5M265 100.1V107.3M266 103.1V107.4M267 105.7V109.1M268 107V112.6M269 106.7V110.2M270 105.4V110.2M271 104.5V108.8M272 103.2V109.3M273 105.3V107.8M274 102.8V110.7M275 104.8V112.1M276 102.6V111.9M277 106.7V112.8M278 105.7V111.4M279 108V109.4M280 99.7V110.9M281 100.8V110M282 100.3V107.6M283 100.5V107.4M284 101.4V105.3M285 99V103.6M286 100.6V102.6M287 97.1V102M288 97.9V101.2M289 95.3V101.2M290 98V101.9M291 97.6V102.1M292 97.8V101.9M293 98.5V100.5M294 96.7V101.6M295 93.2V103.2M296 98.4V101.3M297 98.7V105.1M298 98.8V101.5M299 99.2V100.9M300 98.4V104.8M301 98.3V101.9M302 95.7V103.1M303 99.5V102.4M304 98.8V105.7M305 99.6V104.3M306 96.6V106.1M307 99.5V107.2M308 96.6V107.3M309 97.3V104.2M310 98.2V100.7M311 97.2V102.2M312 94.9V101.7M313 95.2V102.8M314 98V102M315 97.5V102.7M316 99V103M317 93.8V101.3M318 97.8V102.4M319 98.9V104.1M320 98.8V104.1M321 96.9V102.8M322 98.7V102.8M323 99.2V107.8M324 100.4V106.2M325 100.2V104.9M326 100.9V104M327 98.9V103.8M328 101.6V104.2M329 100.5V105.9M330 101.7V105.1M331 103.2V106.3M332 99.5V106.4M333 104V108.8M334 99.6V107M335 102.2V106.2M336 104.1V107.5M337 101V109.4M338 104.8V110M339 104.6V111.2M340 102.5V110.6M341 104.2V110.9M342 105.8V113.1M343 102.7V110.3M344 105V109.7M345 106V113.6M346 106.5V111.3M347 104.6V110M348 108.2V110.1M349 104.4V109.7M350 100.5V109.9M351 107.2V109.4M352 103.9V110.1M353 105.3V109.1M354 104.9V111.6M355 101.8V113.2M356 105.2V108.8M357 104.7V109.3M358 105.8V109.3M359 106.1V111.3M360 107.9V110M361 106.5V109.9M362 107.7V109.3M363 107.4V112.3M364 107V111.9M365 104.4V113.2M366 104.3V112.3M367 102.1V111.1M368 103.5V110.6M369 106.3V110.6M370 106.8V109.3M371 102.4V111.8M372 103.1V111.6M373 106.5V112M374 107V110.7M375 103.9V110.4M376 106.1V113.9M377 105.5V110.8M378 106.6V109.7M379 103.9V111.6M380 105.4V109.8M381 103.5V112.4M382 105.3V107.2M383 103.1V110.8M384 101.6V108.8M385 104V112M386 106V109M387 104.1V109.1M388 104.2V109.6M389 103.8V112.8M390 107.3V110.2M391 106.8V111M392 105.3V109.6M393 106.7V110.4M394 106.6V113.4M395 106V114M396 106.5V110.7M397 106.4V110.3M398 107.4V110.1M399 104.8V110.8M400 106V112M401 101.3V112.5M402 103.5V113.7M403 106.5V110M404 105.5V111.2M405 104.8V114M406 102.4V114M407 105.2V108.7M408 105.2V108M409 97.4V108.1M410 99.3V109.5M411 105.8V108.1M412 104.1V108.8M413 103.2V107.2M414 103.2V108.5M415 102.3V108.6M416 103.3V108.9M417 99.6V107.6M418 102.5V106.8M419 102.6V105.6M420 100.6V105.2M421 99.4V104.7M422 98.6V107.1M423 96V107.1M424 99V101.5M425 99.1V101.8M426 95.3V106.8M427 97V100.8M428 97.9V99.2M429 95.4V101.2M430 97.4V100.8M431 97.6V104.7M432 96.7V100.5M433 94.8V99.7M434 95.7V99.7M435 97.3V102.2M436 97.5V100.1M437 94.2V103.3M438 92.6V105.6M439 97.7V99.8M440 97.1V100.9M441 97.1V100.7M442 93.9V100.7M443 95.2V101.1M444 92.7V104.5M445 94.9V102.2M446 96.3V99.5M447 96.8V101.9M448 96.4V99.8M449 98.2V105.4M450 97.8V102.1M451 96.9V102.8M452 96V106M453 98.2V104.8M454 98.3V105.6M455 98.9V102.6M456 96V104.9M457 99.3V101M458 95.3V102.7M459 99V102M460 98.5V108.8M461 96.4V105.2M462 97.5V99.4M463 94V100.7M464 92.3V102.4M465 97.7V100.1M466 97V104.2M467 96.5V100.4M468 96.4V102.3M469 95.6V100.5M470 95.3V103.1M471 96.9V99.7M472 96.7V101.2M473 96.3V102.4M474 97.4V101M475 97V102.8M476 92.7V100.5M477 96V100M478 94.4V101.4M479 97.4V101.8M480 98.5V102M481 97.5V108M482 101.8V105.8M483 99.7V106.4M484 104.2V109.1M485 101.1V106.9M486 100.6V108.6M487 102.4V108.3M488 102.1V105M489 100.2V107M490 103V106.2M491 98V107.1M492 100V104.8M493 101.6V105.1M494 101.4V107M495 97.3V109.4M496 99.1V106.4M497 101.6V104M498 98.9V103M499 100V104.3M500 97.5V104.4M501 99.1V102.3M502 99.4V102.4M503 96.4V102.3M504 97.2V101.6M505 96V102.2M506 98.9V104.4M507 92.7V101.4M508 98.6V102.3M509 97.9V104.9M510 96.8V102.6M511 97.2V105.6M512 98.1V100.6M513 97.8V103.7M514 97.5V100.9M515 93.4V102.8M516 96.5V104.4M517 97.3V102.7M518 99.3V103M519 95.9V102.2M520 96.7V104.1M521 98.9V101.7M522 98.5V106.1M523 96.9V102.3M524 96.4V99.9M525 97.9V101M526 95.6V101M527 97.8V102.9M528 98.7V107.3M529 100.5V101.9M530 99.3V108.3M531 102.2V105M532 101.8V108.2M533 105.5V107.4M534 101.9V106.3M535 100.1V105.5M536 102.7V106M537 100.8V106M538 100V104M539 99V106.8M540 97.9V108.8M541 98.7V103M542 97.8V103.3M543 98.4V103.4M544 96.3V100.9M545 97.6V103.8M546 99.3V102.6M547 96.1V106.7M548 97.6V107.7M549 98.3V102.7M550 95.7V101.4M551 99.2V105.4M552 97.8V105.2M553 98.6V101.4M554 97.3V104.1M555 95.2V103.6M556 96.6V110.5M557 95.5V102.3M558 95V100.9M559 98.4V103.8M560 99.3V102M561 99.4V104.8M562 98.6V103.3M563 97.6V104.2M564 98.7V105M565 100.5V107.7M566 98.7V106.2M567 101.4V103.8M568 94.6V105.1M569 97.6V105.3M570 104V109.4M571 104.2V108.7M572 103.2V105.8M573 98.1V106.4M574 103.1V107.7M575 101.3V105.6M576 103.8V106.3M577 104.7V106.8M578 105.1V109.1M579 104.9V112.9M580 107.1V109M581 104.4V110.2M582 106.3V112.4M583 107.3V109.2M584 101.5V109.1M585 102.8V112M586 103.2V108.8M587 99.4V109.1M588 100.1V108.2M589 102.9V105.5M590 101.2V109.8M591 98.9V106.7M592 97.2V103.5M593 98.3V104M594 98V106.2M595 97.8V101.2M596 96.2V102.6M597 97.6V100.8M598 98.1V105.7M599 97.8V100M600 94.5V104.1M601 95.9V99.9M602 96.2V103.1M603 96.2V105.2M604 96.3V100.5M605 96V102.8M606 98.3V102.1M607 96.9V102.6M608 96.4V100.6M609 98.2V103.2M610 97V101M611 96.5V101.1M612 96.7V102.1M613 97V101.6M614 96.9V102M615 97.3V103.2M616 97.7V107.4M617 97.5V100.6M618 97.2V104.2M619 97.9V103.1M620 97.9V103.5M621 94.8V100.2M622 97.7V99.9M623 93V101.8M624 98.5V102.6M625 98.6V103.5M626 97.2V101.6M627 98.6V104.3M628 97.3V101.3M629 98V107M630 94.6V102.1M631 94.9V101.6M632 99.3V101.4M633 98.7V106.4M634 99.4V105.1M635 99.6V110.2M636 98.8V103.2M637 98.3V103.7M638 97V104.3M639 93.8V104.4M640 94.3V102.3M641 96.1V99.5M642 95.1V98.8M643 90.3V101M644 94.9V102M645 95.4V99.6M646 96.3V102.4M647 96V103.9M648 95.6V99.2M649 97.1V104.2M650 96.6V101.6M651 97.8V100.4M652 96.1V104.4M653 95.4V102.9M654 97.8V100.3M655 96.4V102.6M656 98.4V103.6M657 98V104.5M658 99.2V106.5M659 98.2V101.4M660 97V101.2M661 97.6V106M662 95.6V105.2M663 98.9V100.3M664 97.6V100.2M665 98V100.9M666 98.4V103.4M667 95.5V101.6M668 95.6V106.9M669 95.4V99.5M670 98V102.9M671 91.8V100.1M672 95.2V102.6M673 96.9V101.5M674 97.1V102.4M675 95.7V104.5M676 95.7V107M677 97.6V100.3M678 95.6V102.5M679 97.8V100.1M680 98.1V101.4M681 96.5V100.4M682 97.2V100.1M683 97.5V101.5M684 96.8V101.9M685 95.9V100.8M686 97.6V101.8M687 95.9V105.4M688 101.4V111.4M689 101.3V105.3M690 99.3V104.8M691 101.3V108.1M692 100.2V106.5M693 103.9V110.4M694 99.3V105.4M695 95.1V104M696 98.9V104.2M697 93V104.5" fill="none" stroke="#b9b9b9" stroke-width="1"/>
<path d="M8.3 104.6V102.9M8.7 105V99M12.9 106.7V110.9M21.3 108.5V99.3M23 108.2V105.9M26.8 108V110M28 108V106M29.3 108V105.9M30.2 108V96.5M34.1 108.3V106.1M36.1 108.5V105.6M37.9 108.8V105.9M38.8 108.3V101.6M41.2 107.3V100.6M42.8 106.3V100.6M45 104.9V100.8M45.8 104.3V100.8M46.9 103.6V101.9M51.8 102.4V97.9M52.8 102.3V95.6M56.3 101.7V104.6M56.8 101.3V107.4M60 100.3V114M61.1 100.5V101.9M63 100.8V96M63.9 101V96.5M67.8 101.2V107.9M70.2 101.2V100.1M72 102.9V114M73.1 103.8V99.7M74.2 104.6V102.6M77.2 106.5V92.4M78 107.1V102.6M81.8 107.6V96.4M85.2 108V104.8M86.2 108.1V105.4M87 108.2V110.4M91 108.7V106M92.8 108.2V114M93.8 107.7V105.9M95 107.1V108.4M96.9 106V108.2M98.2 105.4V103.4M100.1 104.6V100.2M101.1 104.2V96.3M103.8 102.9V110M110 101V110.8M112.9 102V107.3M113.9 101.5V104.7M115 101V102.4M116 100.5V113.8M119.2 100.3V102.9M121.2 101.7V95.8M128.1 104.7V109.4M130.1 105.4V95.3M130.8 104.9V101.3M133.2 103.9V109.6M135.2 102.9V101.8M136.2 102.7V109.8M143.2 103V101.8M146.1 103.2V113.1M148 102.2V103.2M154 106V104.8M158 108.5V110.6M160 108.3V106.8M162.9 107.3V105.8M165.1 106.1V103.8M168.9 108V105.8M171.8 108.1V105.4M174.1 107.4V105.6M176.8 105V100.8M178.9 102.9V105.4M181.1 101.6V106.9M183.9 100.1V91.1M187.1 99.7V89.7M189.2 99.9V101.9M189.7 100.3V101.8M191.1 100.8V90.9M193.8 102.9V104.5M195.8 104.6V106.1M197 105.4V110M200.1 105.9V104.1M201.9 106.3V102.2M202.9 106.1V95.7M204.1 105.9V99.8M205.9 105.6V103.5M210.1 100.3V103.9M211.2 100.2V114M211.7 100.1V104.4M214 100V109.5M215.9 99.8V98.7M218.1 99.7V103.3M220.1 99.5V103.6M223.8 99.8V107M226.3 100V102.5M228 100.1V109.7M232.8 100.3V97M234.8 100.3V103.2M235.9 100.3V102.9M237.8 100.3V111M240.2 100.3V93M245 100.8V106.7M248.7 101.1V104.7M254.1 100.8V102.3M254.8 100.8V94.3M257 100.6V103.8M261.8 101.6V104.2M263.2 102.2V114M263.9 102.9V106.2M265.2 104.2V102.3M266 105.5V114M267 106.7V103.8M269.3 107.8V103.2M272 107.3V106M273 107.1V103.9M277 109.2V107M278 109.7V102.9M281.8 106.3V98.2M284.1 104.1V95.9M286.2 101.6V93.2M287.7 100.2V97.8M289.7 99.9V96M290.8 99.8V102.9M292.9 99.5V101.1M295.1 99.6V101.3M296.9 99.8V104.2M297.9 99.8V111M301.2 100V110.9M303.1 100.2V98.1M303.9 100.2V109.1M308.1 100.1V103.8M309.1 100V102.8M315.1 99.5V102.6M315.7 99.7V101.3M317.2 100V105.3M318.8 100.5V103.2M322 101.2V107.5M323 101.5V107.3M324.2 101.8V96.5M327.1 102.6V101.6M328 102.9V111.9M331.2 104V107.2M332.8 104.7V101.9M335.7 105.8V103.5M338.8 106.9V102.8M341.8 108V92.2M345.3 108.4V106.9M346 108.5V114M347 108.7V106.3M350.8 108.1V105.8M355.1 107.1V105.7M363 108.6V93.6M363.8 108.5V105M365.9 108.3V106.6M369.1 108.1V105.7M376.2 108.4V107.3M378.2 107.7V98.4M378.7 107.4V104.3M382.8 106.6V104.7M383.9 106.9V99.8M385.3 107.2V105.3M386.9 107.7V104.1M387.9 108V103.7M391 108.7V112.7M393.3 109.2V107M396.1 109.5V107.8M396.9 109.4V110.8M398 109.2V107.6M401.2 108.7V107.5M403.8 108.2V113.9M405.2 108V105.8M408.1 107.3V106M408.7 107V108.1M410.2 106.8V103.7M411.3 106.5V109M414 105.7V103.5M414.8 105.4V102.3M415.8 105.2V95.9M418.3 104.6V101.1M419 103.8V102.4M426.8 99V94.6M427.7 98.6V97.1M434.9 99.2V96M439 99V107.4M439.7 98.6V96.4M441.1 98.2V100.9M441.8 97.7V95.2M443.1 97.9V106.7M446.3 98.6V99.8M450.7 99.6V100.8M453.8 100V96.3M455.1 100.1V109.3M457 100.3V103.2M457.8 100V108.4M460.9 98.9V95.7M467.8 98.6V105.5M469.2 98.6V96.7M470.3 98.6V95.2M475 99V85.5M477.7 99.3V98M482 103.4V85.5M484.3 105.2V103.8M485.1 104.9V103.1M486.1 104.7V101.5M487.7 104.2V107.3M489.2 103.9V102.8M491.7 104.1V105.5M500.1 100.3V92.5M500.9 100.2V102.4M502.8 100.1V101.6M504.2 100V114M505 99.9V103.6M509.7 99.5V106.3M510.8 99.6V103.8M513 99.8V105.1M523.1 99.1V92M524.2 98.8V101.2M525.8 99.3V101.1M526.9 100V102.1M528.7 101.3V102.4M531 103.4V93.3M534.8 104.6V102.2M536.2 103.8V100.5M536.8 102.9V98.2M539.1 101.5V106M541.8 99.5V101.2M543.9 99.7V107.1M545.9 99.9V98.1M549.8 100.3V99.3M553.3 100V102.2M554.8 99.8V101.8M559.2 99.7V101.1M564.7 101.2V106.3M566.7 102.9V105.7M571.8 105.1V103M573.8 104.8V101.2M575 104.6V102.2M575.8 105.3V103.1M576.9 106V111.9M581.3 108V98M585 107.3V104.3M585.8 107V99.2M588 106.3V109.6M588.7 104.6V97.6M598.3 98.9V106.9M600.8 99.1V97.2M602.3 99.2V88.5M603 99.3V97.9M604.1 99.4V103.4M605.7 99.4V101.8M607.3 99.3V97.8M610.9 99V105.9M611.9 98.9V106.6M615.9 98.7V102.4M617.1 98.8V100.9M619.1 99V105.1M620 99V105M621.1 99.1V101.6M622 99.2V106.3M623 99.3V95.7M625.2 99.5V111.3M625.8 99.6V97.1M626.8 99.7V93.6M627.8 99.7V102.3M630.2 99.9V105.7M631.1 100V101.1M634.2 100.2V102M635.9 99.9V101.5M636.7 99.6V114M638 99.2V108.4M640 98.4V100.4M641.2 98.1V101.3M641.8 97.7V104.5M643 97.8V107.9M648.8 98.3V99.9M650.2 98.4V96.1M652.2 98.6V90.4M653.8 99V102.7M655.1 99.2V101.1M658.1 99.9V105M660.1 100.3V102.2M665.8 99V105.4M667.2 98.8V103.1M668.2 98.6V103.8M670.1 98.9V108.6M674 99.4V92M675.1 99.5V102.8M679.1 99.5V100.6M683.2 99.5V97.2M684.7 99.5V101M686.2 100.3V99.1M686.8 101.2V99.4M688.3 102V105.8M689.3 102.9V106.4M692 104.8V102.7M697.1 101.2V107.1" fill="none" stroke="#a4a4a4" stroke-width="0.6"/>
<line x1="5.5" y1="102.9" x2="697.5" y2="102.9" stroke="#e67e78" stroke-width="1"/>
<path d="M5.5 101 6.8 102.8 8 104.7 9.2 104.7 10.5 106.3 11.8 105.7 13 106.5 14.2 107.1 15.5 107.1 16.8 108.6 18 108.5 19.2 109.4 20.5 109 21.8 108.8 23 108.4 24.2 108.3 25.5 107.5 26.8 108.8 28 108.3 29.2 108.8 30.5 108 31.8 107.3 33 107.3 34.2 108.9 35.5 108.4 36.8 109.4 38 108.4 39.2 108.5 40.5 107.9 41.8 107.4 43 106.9 44.2 106.3 45.5 104.3 46.8 104.2 48 102.9 49.2 102.7 50.5 102.9 51.8 102.2 53 102 54.2 101.8 55.5 101.3 56.8 100.9 58 101.2 59.2 101.4 60.5 100.4 61.8 101.3 63 101.4 64.2 101.1 65.5 102.4 66.8 100.8 68 101.3 69.2 100.8 70.5 101.1 71.8 102.9 73 102.8 74.2 104.6 75.5 105.9 76.8 106.1 78 106.4 79.2 106.2 80.5 106.8 81.8 107.6 83 106.3 84.2 108 85.5 108 86.8 108 88 108.2 89.2 107.8 90.5 108.9 91.8 109 93 108.8 94.2 108 95.5 106.7 96.8 106.8 98 104.6 99.2 105 100.5 105 101.8 104 103 103.7 104.2 102.4 105.5 102.1 106.8 101.3 108 100.5 109.2 100.7 110.5 101 111.8 101.2 113 101.6 114.2 101.4 115.5 101.3 116.8 99.4 118 99.9 119.2 100.8 120.5 102.3 121.8 102.3 123 103 124.2 103.8 125.5 103.4 126.8 104.1 128 104.9 129.2 104.1 130.5 105 131.8 105.4 133 104.1 134.2 103.3 135.5 103.4 136.8 102 138 101.9 139.2 102.2 140.5 102.8 141.8 102.4 143 102.8 144.2 103 145.5 102.5 146.8 103.5 148 102.9 149.2 101.5 150.5 101.1 151.8 103.2 153 103.8 154.2 105.5 155.5 108.5 156.8 108.1 158 108.2 159.2 108.3 160.5 108.8 161.8 108.3 163 108 164.2 106.9 165.5 106.3 166.8 106.5 168 107.6 169.2 108.1 170.5 108.2 171.8 108.2 173 107.8 174.2 106.7 175.5 106.3 176.8 105.1 178 103.6 179.2 102.1 180.5 101.8 181.8 101.3 183 99.7 184.2 100.6 185.5 100.2 186.8 100.1 188 99.3 189.2 99.6 190.5 100.2 191.8 102 193 101.7 194.2 102.9 195.5 104.2 196.8 105.1 198 105 199.2 104.8 200.5 106.3 201.8 106.3 203 106 204.2 105.7 205.5 105.5 206.8 106 208 103.3 209.2 100.6 210.5 100.4 211.8 100.8 213 99.9 214.2 99.9 215.5 101 216.8 100.8 218 99.9 219.2 99.3 220.5 98.7 221.8 99.6 223 99.6 224.2 99.8 225.5 99 226.8 99.9 228 100.9 229.2 100.6 230.5 100.8 231.8 100 233 99.2 234.2 101.4 235.5 101.1 236.8 101.3 238 100.8 239.2 99.4 240.5 100.3 241.8 100.4 243 101.2 244.2 101.6 245.5 100.6 246.8 100.4 248 101.8 249.2 101.7 250.5 100.9 251.8 101.2 253 100.8 254.2 100.7 255.5 101 256.8 100.5 258 99.6 259.2 100.3 260.5 101.1 261.8 102 263 102.7 264.2 104.4 265.5 105.1 266.8 106.4 268 107.9 269.2 107.5 270.5 108.8 271.8 106.6 273 107 274.2 108 275.5 108.9 276.8 108 278 110.1 279.2 109 280.5 108.5 281.8 105.9 283 104.1 284.2 105.1 285.5 102.2 286.8 100.5 288 100.1 289.2 100.3 290.5 99.5 291.8 99.3 293 99.8 294.2 99.7 295.5 99.4 296.8 99 298 99.9 299.2 99 300.5 100.6 301.8 99.8 303 100.1 304.2 100.1 305.5 100.6 306.8 100.6 308 100.8 309.2 99.7 310.5 100.3 311.8 99.9 313 100.4 314.2 99.2 315.5 98.2 316.8 98.8 318 100.8 319.2 101.3 320.5 101 321.8 101 323 101.3 324.2 102.4 325.5 102.5 326.8 102.8 328 103 329.2 102.7 330.5 103.9 331.8 104.6 333 104.6 334.2 105.9 335.5 105 336.8 106 338 105.9 339.2 108.1 340.5 107.6 341.8 108.4 343 107.7 344.2 109.1 345.5 108.6 346.8 108.5 348 108.6 349.2 107.9 350.5 107.4 351.8 108.1 353 107.7 354.2 107.7 355.5 107.5 356.8 108.3 358 108.4 359.2 109.6 360.5 108.5 361.8 109.5 363 108.7 364.2 107.5 365.5 108.2 366.8 107 368 108.5 369.2 108.7 370.5 107.7 371.8 107.6 373 108.6 374.2 109.1 375.5 108.4 376.8 107.7 378 107.8 379.2 107.9 380.5 106.5 381.8 105.8 383 107.1 384.2 107.3 385.5 107.4 386.8 108.2 388 108.4 389.2 108.5 390.5 108.5 391.8 108.6 393 109.3 394.2 108.6 395.5 109.4 396.8 109.3 398 108.7 399.2 108.7 400.5 108.3 401.8 110.1 403 108.9 404.2 108.5 405.5 107.5 406.8 107.5 408 107.1 409.2 107.6 410.5 106.9 411.8 106.4 413 106 414.2 105.3 415.5 105.5 416.8 104.9 418 104.4 419.2 103.4 420.5 103.5 421.8 102.2 423 101.3 424.2 99.2 425.5 99.4 426.8 99.9 428 98.2 429.2 98.8 430.5 98.4 431.8 99 433 98.5 434.2 99.3 435.5 98.8 436.8 98.6 438 99.3 439.2 98.7 440.5 99 441.8 97.5 443 97.8 444.2 98.3 445.5 99.3 446.8 99 448 99.2 449.2 99.2 450.5 100.1 451.8 99.9 453 100.4 454.2 100.6 455.5 99.6 456.8 99.8 458 99.3 459.2 98.7 460.5 98.8 461.8 99 463 99 464.2 98.2 465.5 98.5 466.8 98.1 468 98.7 469.2 99.1 470.5 98.9 471.8 98.7 473 98.8 474.2 98.1 475.5 99 476.8 99.2 478 99.5 479.2 100 480.5 100.4 481.8 102.9 483 104.9 484.2 105.8 485.5 104.3 486.8 103.8 488 105.3 489.2 103.9 490.5 102.8 491.8 104.7 493 104.7 494.2 104.3 495.5 104.5 496.8 101.9 498 101.9 499.2 100.6 500.5 99.6 501.8 99.5 503 99.7 504.2 101.2 505.5 100.8 506.8 99.4 508 99.5 509.2 99.7 510.5 99.4 511.8 99.9 513 99 514.2 99.8 515.5 99.6 516.8 100.3 518 100.8 519.2 99.9 520.5 99.9 521.8 99.3 523 97.9 524.2 98.7 525.5 98.4 526.8 99.9 528 100.5 529.2 101.5 530.5 102.3 531.8 105.2 533 106.2 534.2 105.1 535.5 104.9 536.8 102.2 538 102.5 539.2 100.7 540.5 100.9 541.8 99.6 543 99.5 544.2 99.8 545.5 100.6 546.8 99.6 548 100.1 549.2 99.3 550.5 100.2 551.8 99.3 553 101 554.2 101.1 555.5 99.8 556.8 99 558 100.2 559.2 100.1 560.5 100 561.8 100.9 563 100.3 564.2 100.4 565.5 101.5 566.8 103.1 568 103.3 569.2 105.4 570.5 105.6 571.8 103.9 573 105.4 574.2 104.8 575.5 104.6 576.8 105.7 578 106.7 579.2 108.2 580.5 107.6 581.8 108.4 583 108.5 584.2 108.6 585.5 107.7 586.8 106.3 588 107 589.2 103.7 590.5 101.9 591.8 100.7 593 99.5 594.2 99.6 595.5 99 596.8 98.4 598 98.9 599.2 99.4 600.5 98.6 601.8 98.5 603 99.3 604.2 98.5 605.5 99.1 606.8 98.7 608 98.5 609.2 99.6 610.5 98.8 611.8 98.5 613 98.5 614.2 98.4 615.5 98.2 616.8 97.9 618 98.7 619.2 99.6 620.5 99.7 621.8 99.3 623 100.7 624.2 99.2 625.5 100 626.8 98.4 628 99.7 629.2 99.6 630.5 98.8 631.8 100.2 633 100.4 634.2 99.5 635.5 100.6 636.8 99.8 638 98.6 639.2 98.4 640.5 98.7 641.8 98.6 643 98 644.2 97.6 645.5 98.4 646.8 97.5 648 99 649.2 99.2 650.5 97.9 651.8 98.2 653 99.2 654.2 99.3 655.5 100.1 656.8 99.1 658 100.6 659.2 100.2 660.5 99.4 661.8 99.7 663 99.6 664.2 99.4 665.5 99.4 666.8 99.2 668 99.3 669.2 99.1 670.5 99.1 671.8 99.3 673 99.3 674.2 100.4 675.5 99.5 676.8 99.2 678 99.3 679.2 100.6 680.5 99.1 681.8 99.7 683 99.4 684.2 101 685.5 99.4 686.8 101 688 101.5 689.2 103.1 690.5 104 691.8 104.6 693 105.6 694.2 104.4 695.5 102.6 696.8 101.8" fill="none" stroke="#1e1e1e" stroke-width="0.9"/>
<rect x="5.5" y="76.9" width="2.2" height="2.5" fill="#1a1ad2"/>
<rect x="47.8" y="76.9" width="23.9" height="2.5" fill="#1a1ad2"/>
<rect x="102.4" y="76.9" width="21.5" height="2.5" fill="#1a1ad2"/>
<rect x="132.9" y="76.9" width="7.7" height="2.5" fill="#1a1ad2"/>
<rect x="144.4" y="76.9" width="7.3" height="2.5" fill="#1a1ad2"/>
<rect x="179.8" y="76.9" width="14.9" height="2.5" fill="#1a1ad2"/>
<rect x="208" y="76.9" width="55.8" height="2.5" fill="#1a1ad2"/>
<rect x="286" y="76.9" width="40.9" height="2.5" fill="#1a1ad2"/>
<rect x="422.6" y="76.9" width="59.9" height="2.5" fill="#1a1ad2"/>
<rect x="490" y="76.9" width="1.5" height="2.5" fill="#1a1ad2"/>
<rect x="497.9" y="76.9" width="31.7" height="2.5" fill="#1a1ad2"/>
<rect x="536.3" y="76.9" width="29.8" height="2.5" fill="#1a1ad2"/>
<rect x="591.2" y="76.9" width="99.6" height="2.5" fill="#1a1ad2"/>
<rect x="696.5" y="76.9" width="1.2" height="2.5" fill="#1a1ad2"/>
<g fill="#000"><rect x="49.1" y="81.8" width="23.4" height="2"/><rect x="52.6" y="83.5" width="1.3" height="2"/><rect x="58.2" y="83.5" width="0.8" height="2"/><rect x="66.2" y="83.5" width="2.5" height="2"/><rect x="102" y="81.8" width="22.4" height="2"/><rect x="104.8" y="83.5" width="0.8" height="2"/><rect x="106.4" y="83.5" width="1.6" height="2"/><rect x="109.4" y="83.5" width="2.5" height="2"/><rect x="111.2" y="83.5" width="1.6" height="2"/><rect x="112.9" y="83.5" width="1.3" height="2"/><rect x="122.2" y="83.5" width="1.6" height="2"/><rect x="125.6" y="81.8" width="1.2" height="2"/><rect x="132" y="81.8" width="7.7" height="2"/><rect x="133" y="83.5" width="0.8" height="2"/><rect x="133.2" y="83.5" width="3" height="2"/><rect x="144.4" y="81.8" width="9" height="2"/><rect x="179.8" y="81.8" width="14" height="2"/><rect x="185" y="83.5" width="1.3" height="2"/><rect x="186.6" y="83.5" width="2" height="2"/><rect x="208.9" y="81.8" width="55.1" height="2"/><rect x="215" y="83.5" width="1.6" height="2"/><rect x="220.1" y="83.5" width="1" height="2"/><rect x="220.8" y="83.5" width="3" height="2"/><rect x="223.7" y="83.5" width="0.8" height="2"/><rect x="231.2" y="83.5" width="2" height="2"/><rect x="233.6" y="83.5" width="0.8" height="2"/><rect x="235.7" y="83.5" width="1.6" height="2"/><rect x="236.7" y="83.5" width="1" height="2"/><rect x="237.4" y="83.5" width="1.3" height="2"/><rect x="237.5" y="83.5" width="0.8" height="2"/><rect x="248.5" y="83.5" width="0.8" height="2"/><rect x="251.8" y="83.5" width="1.3" height="2"/><rect x="252" y="83.5" width="0.8" height="2"/><rect x="252.1" y="83.5" width="0.8" height="2"/><rect x="261.1" y="83.5" width="0.8" height="2"/><rect x="286.3" y="81.8" width="40.1" height="2"/><rect x="288.9" y="83.5" width="1" height="2"/><rect x="307.3" y="83.5" width="1.6" height="2"/><rect x="313.9" y="83.5" width="2.5" height="2"/><rect x="318.6" y="83.5" width="3" height="2"/><rect x="319.4" y="83.5" width="1.6" height="2"/><rect x="323.9" y="83.5" width="1.3" height="2"/><rect x="324.2" y="83.5" width="1" height="2"/><rect x="416" y="81.8" width="1.2" height="2"/><rect x="423.2" y="81.8" width="59.3" height="2"/><rect x="424" y="83.5" width="3" height="2"/><rect x="425" y="83.5" width="1.6" height="2"/><rect x="428.5" y="83.5" width="1" height="2"/><rect x="432" y="83.5" width="0.8" height="2"/><rect x="432.7" y="83.5" width="1" height="2"/><rect x="436.1" y="83.5" width="1.3" height="2"/><rect x="441.7" y="83.5" width="3" height="2"/><rect x="441.9" y="83.5" width="2" height="2"/><rect x="444.5" y="83.5" width="1.3" height="2"/><rect x="445.5" y="83.5" width="1.3" height="2"/><rect x="457.8" y="83.5" width="1.3" height="2"/><rect x="458.2" y="83.5" width="2.5" height="2"/><rect x="460.6" y="83.5" width="2" height="2"/><rect x="467.4" y="83.5" width="2.5" height="2"/><rect x="490.2" y="81.8" width="1.3" height="2"/><rect x="498.9" y="81.8" width="30.7" height="2"/><rect x="500.6" y="83.5" width="0.8" height="2"/><rect x="518" y="83.5" width="2.5" height="2"/><rect x="518.5" y="83.5" width="2.5" height="2"/><rect x="520.3" y="83.5" width="2" height="2"/><rect x="520.9" y="83.5" width="3" height="2"/><rect x="521.7" y="83.5" width="3" height="2"/><rect x="536.3" y="81.8" width="30.4" height="2"/><rect x="539.3" y="83.5" width="2" height="2"/><rect x="542.2" y="83.5" width="3" height="2"/><rect x="543.4" y="83.5" width="2.5" height="2"/><rect x="547.6" y="83.5" width="0.8" height="2"/><rect x="554.8" y="83.5" width="0.8" height="2"/><rect x="556.6" y="83.5" width="2.5" height="2"/><rect x="559" y="83.5" width="1.6" height="2"/><rect x="561" y="83.5" width="0.8" height="2"/><rect x="591.2" y="81.8" width="99.6" height="2"/><rect x="598" y="83.5" width="1.3" height="2"/><rect x="599" y="83.5" width="1" height="2"/><rect x="599.1" y="83.5" width="1.6" height="2"/><rect x="599.1" y="83.5" width="1.6" height="2"/><rect x="603.5" y="83.5" width="1.3" height="2"/><rect x="604.6" y="83.5" width="2" height="2"/><rect x="605.2" y="83.5" width="2.5" height="2"/><rect x="612.6" y="83.5" width="2.5" height="2"/><rect x="617.8" y="83.5" width="1.6" height="2"/><rect x="629.9" y="83.5" width="1.6" height="2"/><rect x="641.3" y="83.5" width="2.5" height="2"/><rect x="642.1" y="83.5" width="2.5" height="2"/><rect x="650.4" y="83.5" width="0.8" height="2"/><rect x="652" y="83.5" width="0.8" height="2"/><rect x="652.1" y="83.5" width="3" height="2"/><rect x="657.8" y="83.5" width="1.6" height="2"/><rect x="660.5" y="83.5" width="0.8" height="2"/><rect x="661.3" y="83.5" width="1" height="2"/><rect x="663.1" y="83.5" width="2.5" height="2"/><rect x="664.7" y="83.5" width="1.3" height="2"/><rect x="666.1" y="83.5" width="1.6" height="2"/><rect x="686.9" y="83.5" width="1.3" height="2"/><rect x="688.1" y="83.5" width="1.6" height="2"/><rect x="696.5" y="81.8" width="1.2" height="2"/></g>
<rect x="5.5" y="75.5" width="692" height="39" fill="none" stroke="#3c3c3c" stroke-width="1"/>
<line x1="5.5" y1="114.5" x2="5.5" y2="117.5" stroke="#3c3c3c" stroke-width="1"/>
<text transform="translate(5.3 128.8) scale(0.85 1)" font-size="9.9" text-anchor="middle" fill="#111" stroke="#111" stroke-width="0.3">12</text>
<line x1="63.2" y1="114.5" x2="63.2" y2="117.5" stroke="#3c3c3c" stroke-width="1"/>
<text transform="translate(63 128.8) scale(0.85 1)" font-size="9.9" text-anchor="middle" fill="#111" stroke="#111" stroke-width="0.3">13</text>
<line x1="120.8" y1="114.5" x2="120.8" y2="117.5" stroke="#3c3c3c" stroke-width="1"/>
<text transform="translate(120.6 128.8) scale(0.85 1)" font-size="9.9" text-anchor="middle" fill="#111" stroke="#111" stroke-width="0.3">14</text>
<line x1="178.5" y1="114.5" x2="178.5" y2="117.5" stroke="#3c3c3c" stroke-width="1"/>
<text transform="translate(178.3 128.8) scale(0.85 1)" font-size="9.9" text-anchor="middle" fill="#111" stroke="#111" stroke-width="0.3">15</text>
<line x1="236.2" y1="114.5" x2="236.2" y2="117.5" stroke="#3c3c3c" stroke-width="1"/>
<text transform="translate(236 128.8) scale(0.85 1)" font-size="9.9" text-anchor="middle" fill="#111" stroke="#111" stroke-width="0.3">16</text>
<line x1="293.8" y1="114.5" x2="293.8" y2="117.5" stroke="#3c3c3c" stroke-width="1"/>
<text transform="translate(293.6 128.8) scale(0.85 1)" font-size="9.9" text-anchor="middle" fill="#111" stroke="#111" stroke-width="0.3">17</text>
<line x1="351.5" y1="114.5" x2="351.5" y2="117.5" stroke="#3c3c3c" stroke-width="1"/>
<text transform="translate(351.3 128.8) scale(0.85 1)" font-size="9.9" text-anchor="middle" fill="#111" stroke="#111" stroke-width="0.3">18</text>
<line x1="409.2" y1="114.5" x2="409.2" y2="117.5" stroke="#3c3c3c" stroke-width="1"/>
<text transform="translate(409 128.8) scale(0.85 1)" font-size="9.9" text-anchor="middle" fill="#111" stroke="#111" stroke-width="0.3">19</text>
<line x1="466.8" y1="114.5" x2="466.8" y2="117.5" stroke="#3c3c3c" stroke-width="1"/>
<text transform="translate(466.6 128.8) scale(0.85 1)" font-size="9.9" text-anchor="middle" fill="#111" stroke="#111" stroke-width="0.3">20</text>
<line x1="524.5" y1="114.5" x2="524.5" y2="117.5" stroke="#3c3c3c" stroke-width="1"/>
<text transform="translate(524.3 128.8) scale(0.85 1)" font-size="9.9" text-anchor="middle" fill="#111" stroke="#111" stroke-width="0.3">21</text>
<line x1="582.2" y1="114.5" x2="582.2" y2="117.5" stroke="#3c3c3c" stroke-width="1"/>
<text transform="translate(582 128.8) scale(0.85 1)" font-size="9.9" text-anchor="middle" fill="#111" stroke="#111" stroke-width="0.3">22</text>
<line x1="639.8" y1="114.5" x2="639.8" y2="117.5" stroke="#3c3c3c" stroke-width="1"/>
<text transform="translate(639.6 128.8) scale(0.85 1)" font-size="9.9" text-anchor="middle" fill="#111" stroke="#111" stroke-width="0.3">23</text>
<line x1="697.5" y1="114.5" x2="697.5" y2="117.5" stroke="#3c3c3c" stroke-width="1"/>
<text transform="translate(697.3 128.8) scale(0.85 1)" font-size="9.9" text-anchor="middle" fill="#111" stroke="#111" stroke-width="0.3">24</text>
<path d="M6 157.8V168.5M7 159.1V164.7M8 159.6V166.6M9 156.8V166.9M10 159.4V162M11 160.1V163.4M12 156.1V161.6M13 156.7V163.1M14 158.9V161.1M15 157.4V162.3M16 156.9V161.6M17 158.4V162.3M18 157.1V161M19 158.5V164.4M20 158.3V162.9M21 159.7V161.5M22 155.6V162.4M23 156V167.1M24 157.4V163.1M25 154.9V160.5M26 156.4V162.9M27 159.3V161.9M28 156.6V162.5M29 159.5V166.8M30 156.9V166.2M31 160.7V162.6M32 155.7V166M33 161.1V168.3M34 155.6V164.9M35 159.8V166.1M36 155.6V161.3M37 158.9V163.7M38 158.8V161.2M39 154.5V164.1M40 158.6V165.1M41 159V161M42 159.7V162.7M43 158.3V162M44 161V162.8M45 160.9V166.5M46 159.6V162.8M47 156.1V164.2M48 158.6V165.7M49 159.5V165.7M50 159V163.6M51 158.1V162.3M52 156.3V164.3M53 159.8V163.4M54 160V164.3M55 159.6V165M56 159.5V163.2M57 159.5V163.4M58 160.5V167.3M59 161.2V164.7M60 161.2V167.4M61 161V166.3M62 161.7V169.6M63 163.6V167.9M64 159V170.4M65 165V167.8M66 164.9V171.4M67 167.3V168.8M68 163V171.3M69 167.6V170.7M70 165.4V169.5M71 165.5V169.8M72 166.6V176M73 165.7V170.8M74 165.1V172.3M75 169.1V173.7M76 169.9V174.2M77 167.9V173.9M78 168.4V173.7M79 168.1V170.5M80 167V168.9M81 163V171.4M82 162.9V167.2M83 164.4V166.2M84 163.7V169.1M85 162.8V167.6M86 163.2V170.1M87 161.9V168.7M88 162.6V166.4M89 159.3V165.9M90 159.9V161.9M91 159.3V166.7M92 160.4V162.1M93 159.1V167.6M94 160.3V169.5M95 160.7V162.5M96 159.5V163.3M97 160.3V166.5M98 160V167.5M99 156.3V167.6M100 159.5V165.9M101 159.8V161.6M102 156.7V162.2M103 157.1V163.2M104 156.9V163.7M105 154.6V164.4M106 159.3V162.2M107 157.7V164.2M108 151.8V162.7M109 159.2V164.5M110 157V163.7M111 159.6V161.8M112 157V163M113 160.7V162.9M114 158.8V163.2M115 161.6V164.8M116 161.2V165.4M117 160.2V165.1M118 159.6V165.1M119 158.6V165.1M120 158.7V162.9M121 159.2V164.9M122 159.1V169M123 159.1V163.8M124 157.5V161.5M125 157V166M126 159.9V161.5M127 158.9V162.7M128 157.7V164.6M129 158.9V163.9M130 159.2V165.5M131 160V164.8M132 156V162.3M133 160.4V165.8M134 159.2V165.9M135 160.3V162.7M136 159.5V165.7M137 157.5V163.3M138 159.5V163.3M139 160V163M140 156.8V162.7M141 160.5V164.2M142 159.9V166M143 157.7V163.4M144 156.6V165M145 158.5V163.3M146 152.4V163M147 158.9V161.4M148 156.4V162.5M149 160.9V165.6M150 159.9V165.2M151 162.1V168M152 160.9V170.6M153 166.2V169.6M154 167V170.6M155 166.6V169.9M156 166.8V171.5M157 167.8V174.7M158 165.8V170.2M159 163.7V169.4M160 165.7V170.4M161 165.1V170.1M162 165.3V170.4M163 162.1V170M164 166.4V170.5M165 164.7V168.5M166 165V170.7M167 164.5V171.5M168 165V169.6M169 167.6V170.6M170 168V171.9M171 167.6V173.3M172 167.9V175M173 168.3V171.9M174 168.7V173.7M175 168.7V173M176 165.1V173.7M177 167.6V176M178 167V171.1M179 167.9V171.7M180 166.8V173.2M181 163.8V170.5M182 167.1V170.4M183 164.6V174.8M184 158.8V170.9M185 166.1V169.2M186 166V174.6M187 166.6V168.7M188 163.5V172.2M189 166.1V168.6M190 164.4V171.6M191 161.2V168.3M192 164.1V172.3M193 164.4V168.7M194 163.4V165.4M195 162.3V164.3M196 156.6V163.1M197 157V163.4M198 157V160.6M199 155.4V160.5M200 158.5V160.9M201 155.6V163.9M202 154.6V161.3M203 155.4V161.3M204 158.1V164.2M205 157.4V164.5M206 156.1V162.7M207 155.1V160.8M208 157.1V161M209 156.8V162M210 157.1V159.9M211 155.1V162.6M212 157.5V169.1M213 155.4V165.6M214 158.6V160.8M215 156V164M216 155.5V163.8M217 157.7V164.3M218 155.8V167.2M219 158.5V162.3M220 157.6V160.6M221 159.8V165.7M222 158.7V162.6M223 160V163.4M224 158.2V163.6M225 157.7V160.6M226 155.6V165.9M227 155.2V161.4M228 153.1V162.8M229 154.5V161.6M230 157.7V162.2M231 158.4V162.3M232 156.2V161M233 156.5V162.2M234 157.2V164.2M235 158.8V161.7M236 154.7V163.3M237 159.3V162.5M238 158.4V162.2M239 158.9V161.4M240 158.5V166.3M241 157.3V166.1M242 159.6V162.6M243 159V162.2M244 159.1V167.1M245 156.1V163.4M246 157.6V163.4M247 155.6V164.5M248 157.6V161M249 154.1V160.8M250 158.6V163.9M251 158V162.2M252 157.1V163.2M253 161.7V168.6M254 162.2V167.5M255 163.5V166.1M256 162.2V166.3M257 165.2V168.6M258 162.8V169.1M259 163.6V169.4M260 166.8V170.8M261 167.2V171.8M262 166.4V170.3M263 166V170.7M264 161.6V170.2M265 163.6V167.5M266 161.9V168.4M267 164.4V166.7M268 163.8V168.9M269 159.8V168.4M270 161.3V170.9M271 158.2V171.1M272 164.6V167.5M273 161.3V165.1M274 159V163.2M275 158.2V164.1M276 154.9V163.9M277 159.2V169M278 154.1V160.8M279 158V164.8M280 157.7V163.8M281 157.6V162.8M282 157.2V160.5M283 157.4V160.1M284 157.9V160M285 154.5V160.7M286 156V163.8M287 154.8V164M288 157.4V166.2M289 156.9V160M290 155.1V163.1M291 158.3V167.3M292 158.4V165.7M293 159.5V166.3M294 153.7V164.1M295 159.3V162.5M296 158.9V162.7M297 150.9V163.4M298 157V163.6M299 158.5V162.6M300 158.8V162.8M301 159.4V163.2M302 155.8V161M303 157.3V165.7M304 157.2V161.2M305 158.6V161.5M306 158.4V160.2M307 156.4V165.7M308 155.6V162.8M309 157.1V161.8M310 154.9V159.8M311 155.9V166M312 157.2V161M313 155.4V161.7M314 156.3V163.3M315 157.6V162.6M316 157.4V161.5M317 159.5V164M318 156.1V161.5M319 159.6V163.7M320 160.4V161.8M321 157.8V165.4M322 159V164.3M323 157.9V164.5M324 160.6V164.9M325 158.4V162.9M326 158.7V166.9M327 159V164.7M328 161.4V164.6M329 158.4V164.9M330 160.8V166.9M331 161.2V166.5M332 160.6V165.9M333 158.6V166.3M334 154.9V168.4M335 158.6V163.8M336 157V163.7M337 157.2V168.7M338 157.4V161.9M339 159.4V163.6M340 157.8V164.7M341 158.1V172.6M342 159.6V162.9M343 160V166.5M344 161V166.1M345 157.5V164.4M346 159.8V163.1M347 156.9V162.3M348 157.2V161M349 156.9V164.1M350 157.5V163.8M351 158.3V160.8M352 155.6V160.3M353 156.9V162.1M354 155.1V162.2M355 155V161.7M356 157.3V162.2M357 155.6V165.9M358 157.3V161.2M359 157.7V162.2M360 159.4V166M361 158.6V163.2M362 158.8V162.9M363 157.6V162.7M364 159.1V165M365 159V164.3M366 159.8V163.5M367 157.6V163.6M368 161.2V165M369 160.7V166.6M370 158.1V162.8M371 159.7V164M372 156.8V163.8M373 156.2V161.5M374 158.5V162.8M375 159.2V161.2M376 158.1V163.7M377 156.7V163.8M378 158.6V161.1M379 158.6V161.2M380 157.9V163M381 157.4V162.6M382 157.2V161.4M383 157.9V161.1M384 158.1V162.2M385 157.7V161.9M386 158.2V163.2M387 160.9V164M388 161.8V168.9M389 160.7V170.1M390 159V170.9M391 163.5V168.5M392 157.6V167.3M393 165.7V167.3M394 166.3V169.3M395 163.5V171.2M396 162.4V168.7M397 159.8V166.4M398 161.9V167.1M399 164.1V169.9M400 162.8V168.4M401 166V170.8M402 165.3V171.8M403 165.4V173.1M404 165.3V170.7M405 165.1V168.7M406 165.4V167M407 160.2V166.1M408 163.6V165.2M409 161.6V165.4M410 159.1V165.9M411 159V167.9M412 156.2V164.7M413 160V163M414 160.2V161.8M415 155.8V162M416 158.9V164.4M417 154.8V161.9M418 157.3V166.7M419 158V163.7M420 156.4V161.8M421 158.3V164.5M422 159.4V162.2M423 157.8V161.5M424 159.5V162.1M425 158.8V165M426 159V164.1M427 156.1V163.4M428 158.4V165.1M429 157.3V162M430 157.8V162.7M431 158.7V163.8M432 159.3V165.3M433 160.5V163.4M434 159.5V164.3M435 159.6V163.6M436 159.4V162.2M437 156.1V162.3M438 155.3V163.2M439 156V165.4M440 157.2V165.6M441 156V160.4M442 156.1V160.4M443 154.9V162.4M444 157.4V159M445 157.1V161.9M446 156.7V163M447 157.6V159.1M448 156.8V165.9M449 156.5V167.6M450 155.1V160.2M451 157.9V162.3M452 157.3V160.2M453 158.5V160.7M454 156.2V166.2M455 154.4V162.7M456 158.5V166.3M457 159.4V161.6M458 159.7V166.4M459 158.6V162.3M460 156.2V162.2M461 158.6V166.2M462 157.1V164.4M463 159.1V162.2M464 159.8V161.9M465 157.2V168M466 158.2V164.9M467 158.3V161.1M468 159.1V167.1M469 158.5V163M470 158V160.5M471 153.9V161.4M472 158.2V160.4M473 159V161.1M474 159V164.7M475 159.2V166.2M476 156.4V165.9M477 158.1V160.9M478 158.3V162.9M479 158.7V164.6M480 155.1V164.9M481 156.2V166.4M482 157.3V162.9M483 158.9V164.1M484 158V161M485 156.5V163.7M486 158.2V165.7M487 157.1V164.9M488 158.3V164.7M489 159.2V160.7M490 156.1V162M491 158.2V163.7M492 159.2V161.2M493 158.2V167.1M494 159.1V162.3M495 158.5V165.6M496 159.4V168.9M497 159.2V163.6M498 159.6V164.4M499 157.6V165.4M500 162V166.3M501 164.5V167.5M502 161.3V168.3M503 163.2V169.7M504 165.9V168.4M505 164.4V168.6M506 165.3V168.9M507 159.9V168.4M508 161.6V169.5M509 164.1V168.6M510 164V166.9M511 165.2V170.5M512 164.7V167.6M513 165.9V168.9M514 163.7V168.5M515 160.5V169.1M516 161.1V172M517 167.9V173.5M518 166.5V171.1M519 164.1V171.1M520 166V171.8M521 155.4V166.5M522 161.2V163.9M523 155.9V167.3M524 158V164.3M525 159.3V162.5M526 160.1V167.1M527 157.4V164.5M528 159.3V163.4M529 157.2V165.5M530 156.6V163.8M531 159.4V169.5M532 159.1V163.5M533 158.7V164.9M534 157.5V164M535 158.2V163M536 157.8V161.9M537 159.2V165M538 158.5V162.3M539 157.3V161.5M540 159.5V161.5M541 158.1V164.5M542 159.4V162.1M543 157.2V164M544 159.2V161.9M545 158.5V162.3M546 158.6V160.4M547 155V161M548 158.3V165M549 159.5V164.1M550 157.9V165M551 155.5V161.3M552 157.7V163.1M553 157.8V165.2M554 158.1V162.8M555 160V163.2M556 156.6V165.3M557 159.4V166.1M558 157.5V164.3M559 160.2V165.3M560 159.6V163.7M561 158.3V164.4M562 160.4V162.8M563 157.5V165.7M564 159.3V163.8M565 159.5V162M566 159.3V164.2M567 158.4V162.2M568 160.2V170.2M569 157.8V164.9M570 157.6V164.8M571 159.6V164.8M572 158.4V162.9M573 157.7V165.8M574 159.4V164.7M575 161.8V167.3M576 163.1V165.4M577 163.3V169.8M578 163.2V167.9M579 165.8V169.1M580 166V170.8M581 159.7V168.9M582 166.1V168.5M583 165.2V170.2M584 163.4V168.3M585 166.3V170.7M586 162.1V169.7M587 163.4V169.2M588 165.9V171M589 163.6V170.1M590 167.1V170.9M591 167.6V169.5M592 167.6V172.4M593 167.9V176M594 165.9V170.9M595 167.6V173M596 164.8V170.7M597 163.9V170.3M598 166.6V170.1M599 166.7V173M600 164.2V172.6M601 164.9V175.5M602 164.3V167.7M603 162.7V168.9M604 159.7V168.1M605 162.7V166.1M606 158.5V164M607 159.8V163.3M608 159.2V162.8M609 158.1V162.5M610 158.7V162.7M611 156.8V163.2M612 158.7V166.7M613 157.6V162.2M614 156.9V163.3M615 158.3V163M616 159.1V161.6M617 157.5V161.4M618 156.2V162.9M619 158.8V161.2M620 159.6V162.2M621 159.2V163.8M622 156.9V165.3M623 155.7V162.8M624 158.7V162.4M625 155.1V162.2M626 158.9V162.2M627 157.2V163.7M628 159.1V164.6M629 159.2V161M630 159.1V164.1M631 160.5V162.3M632 161.9V164.2M633 161.1V167.1M634 164.3V166.7M635 163.3V167.1M636 164.7V170.4M637 160V167.6M638 165V167.3M639 163.3V168M640 160.7V170.4M641 162.5V168.5M642 163.5V170.8M643 162.8V171.4M644 161.6V171.3M645 165.4V169.2M646 165.1V169.7M647 163V168.3M648 165.6V170.1M649 165.1V170M650 164.8V169.4M651 163.2V171M652 165.4V170.9M653 167.9V171.2M654 163.1V169.6M655 163.6V168.9M656 163.3V165.8M657 158.2V168.6M658 162.6V170.7M659 165.1V169.6M660 167.2V169.6M661 165.2V169.9M662 165V168.9M663 166.2V168.6M664 164.6V169.9M665 164.8V168.8M666 163.8V166.6M667 160.8V168.3M668 159.6V165.1M669 161.5V164.4M670 159.9V165.8M671 160.3V168.4M672 154.8V167M673 159.1V166.1M674 158.1V164M675 157V167.4M676 158.3V161.9M677 159.2V162.7M678 158.4V163.1M679 157.9V162.9M680 159.6V162.2M681 159.2V163.4M682 155.6V162.6M683 158.9V166.1M684 160V164.9M685 154.8V162.9M686 159.7V163.3M687 158.7V162.3M688 160.4V162.5M689 159.3V162.3M690 158.2V164.2M691 159V168.3M692 160.9V165.2M693 159V165.1M694 159.9V165.3M695 159.5V170.7M696 158.9V166.2M697 162.5V165.4" fill="none" stroke="#cecece" stroke-width="1"/>
<path d="M10.2 161.3V166.2M11 160.9V167.1M19.3 160.3V166.6M20.2 160.5V153.2M22.8 160.1V172.2M25.2 159.8V164.7M26.2 159.6V162.8M28 160.5V158.3M29 160.9V166.1M30.1 161.3V169.7M30.7 161.8V163.7M31.9 162.2V165.8M33.8 161.3V164.4M35.1 160.9V172.3M39.1 159.8V176M45 162.2V159.7M46.8 161.5V165.6M49.2 160.8V148M53.8 160.9V165.6M55.9 161.1V176M57.2 161.2V147.5M59 162.2V165.9M59.7 163V176M60.8 163.8V167.7M63 165.4V160.5M64.9 166.7V171.6M69.7 168.6V161.1M71.2 168.8V167.4M73 169.4V175.5M79.7 168.1V155M82.8 165.5V169.6M83.8 164.7V160.5M87.9 164.7V162.7M90 161.3V166.7M92.2 161.3V169.2M94 161.3V176M95.9 161.3V163.9M101.2 160.4V170M103.1 159.9V163.6M103.8 159.6V166.7M105.2 159.8V164.4M111.1 161V176M111.7 161.5V162.7M113.3 162V166.8M114.3 162.5V161M115.2 163V164.3M118.3 162.5V169.2M118.7 162.4V168.2M120.2 162.2V167.3M123.2 161.2V168.6M126.2 160.6V163.5M129.8 161V157.8M131.7 161.2V158.1M132.8 161.3V154.7M134.2 161.3V174.2M139 161.3V164.6M139.8 161.3V155.8M145.1 160.8V158.6M147.1 160.6V162.2M148.2 160.5V164.8M152 167.3V168.4M154 168V161.3M160.2 168.6V164.7M165.9 167.3V147.5M167.8 169V174.6M169 169.8V168.1M171.2 170.6V168.5M172 170.5V167M175.1 170.1V163.5M177 169.9V168.6M179.1 169.5V168.2M180 169.1V166.9M181.1 168.8V165.6M182.9 168.1V161.9M189 167.1V164.8M191.8 166.6V159.6M194.9 163V168.8M199.9 159.6V161.9M206.2 158.2V152.5M207.3 157.9V164.3M207.8 158.2V159.8M211.8 159.6V152.4M215.8 159V168.9M217.2 158.8V160.4M220.9 160.7V157.6M222 161.3V156.1M223.8 160V163.8M228 158.9V149.7M229.1 159V160.1M232 159.3V162.3M233.2 159.4V161.8M234.9 159.6V161.7M236.7 160V171.3M239.3 160.3V162.4M240 160.5V164.2M240.9 160.4V172.2M243.2 160.2V154.3M246 160V166.7M248.1 159.8V150.2M250.8 160.7V164.2M254 163.9V166.8M255.9 165.6V161.8M257.3 166.4V163.5M258.9 167.7V165.6M260.8 168.6V167.1M262.1 169V172.9M263.9 166.7V161.3M265.1 165.6V164.1M267.1 165V159.5M268.1 164.7V166.4M269.1 164.9V152.5M271 165.4V160.4M272.8 163.9V174.4M275.8 160.4V161.5M281.1 159.7V162.9M286.1 158.2V164.1M287.8 158.6V162M288.9 159.3V166.3M290.2 159.9V161.1M291 160.6V163M293 161.1V168.4M296.1 160.7V162.3M301.1 160.1V158.3M304.7 159.6V164.8M311.1 158.9V165.2M313.2 159.4V166M313.7 159.6V166.1M316.1 160.1V158.9M317.7 160.5V164.6M320 161V162.3M321.3 161.2V165M323.7 162V166.3M324.9 162.2V163.8M326.1 162.2V156.7M327.1 162.2V157.2M329.8 162.2V159.3M334.9 160.9V162M337.2 160V161.8M338.3 159.6V175.3M339.9 160.6V166.2M341.3 161.2V165.4M341.8 161.7V176M343.8 161.7V163M345.8 160.6V158.4M347.1 160.1V164.8M348.2 159.6V157M349.2 159.6V160.9M352 159.6V169.8M354.1 159.6V166.9M359.3 160V165.6M362.8 160.3V161.6M364.1 160.4V163.2M369.9 161.2V159.5M371.3 160.6V162.7M372 160.1V162.5M379.1 160.4V157.8M381.2 160.5V162.4M381.9 160.5V162.4M382.8 160.5V161.5M384 160.5V154M386.3 161.3V173.6M387.2 162.2V170M388.7 163.9V168.6M389.7 164.7V163.1M394 167.3V166.3M395.8 166V160.7M399 165.5V163.6M399.8 166.4V165.2M401 167.2V170.2M409.8 162.2V172.8M419 159.7V153.5M420.8 160V169.4M422.8 160.2V164.8M423.8 160.4V165.7M424.9 160.5V158.9M425.8 160.6V161.7M428.8 160.9V159.2M430.1 161V167.8M433 161.3V168.4M435.7 160.2V164.2M439 159.1V165.9M446.9 158.4V157.2M450 159.1V156.4M451.2 159.4V160.5M452.1 159.6V162.9M453.2 159.8V164.5M456.2 160.2V161.3M457.1 160.3V162.2M460.9 161V154.1M462 161.1V158M463.3 161.3V164.6M466.2 160.6V161.6M467.1 160.3V166.5M471.9 159.8V154.4M473.3 159.9V154.6M474.2 160V156.1M474.9 160.1V162.2M476.2 160.1V161.7M478.2 160.3V164.3M481.8 160.3V165.5M483.8 160.1V161.6M488 159.6V162.3M490.8 160.3V158.6M493.9 161.1V162.1M495.2 161.3V158M497.7 163.3V166.9M499.8 164.7V175.5M503.9 166.8V162M506.1 167V164.4M513.3 167.1V159.3M514 167.6V176M515.3 168.1V164.2M518.1 169.4V167.2M519.7 167.5V161.9M534.8 161.3V160M538.2 160.8V167.7M541 160.3V161.9M541.8 160.1V154.6M542.8 159.9V166.1M546.2 159.7V162.5M550.2 160.2V161.4M554.8 160.8V163.7M558.1 161.1V167.3M565.3 161.3V166M567.2 161.3V164M574.3 162.8V164.8M575.2 163V165.7M582.3 167.3V166M584.1 167.4V164.1M585.2 167.5V174.8M586.1 167.6V160.1M587.2 167.8V172.3M590.2 168.1V163.4M590.8 168.4V162.9M595.1 169.8V163.2M595.8 169.5V168M597 169.1V158M599 168.4V164.5M600.8 167.3V163.6M603.2 165.6V155M608.7 160.6V156.8M610.7 159.9V158M612.2 159.6V160.7M614.1 159.8V167M616.9 160.2V165.6M620.3 160.5V163.3M623 160V167.6M629.3 160.3V157M631.2 161.7V162.9M634.1 165.2V152.3M635.2 166.4V160.9M637.1 166.1V168.1M637.9 165.9V163.5M638.8 165.8V162.7M641.2 165.9V171.5M645.9 167.3V162.2M646.8 167.3V169.1M648.8 167.3V164.2M649.9 167.3V156.6M650.8 167.9V166.5M653.1 169V165.2M653.8 167.6V162.9M655.1 166.1V164.7M657.7 166.8V161.7M659.2 167.9V164.6M665.9 165.4V162M666.9 164.4V176M668.2 163.3V169.4M670.7 161V164.2M672 160.6V153.4M673.9 159.9V161.8M674.9 159.6V162.3M676.8 159.9V161.9M679.9 160.2V151.4M680.8 160.4V172.2M681.8 160.5V147.8M683.3 160.6V162.2M687.8 161.1V163.8M692.1 161.7V164M693 161.8V166M697.3 164.7V167.7" fill="none" stroke="#b4b4b4" stroke-width="0.6"/>
<line x1="5.5" y1="164.7" x2="697.5" y2="164.7" stroke="#e67e78" stroke-width="1"/>
<path d="M5.5 162.6 6.8 161.4 8 161.3 9.2 162.2 10.5 162.1 11.8 161.8 13 159.9 14.2 160.1 15.5 159.7 16.8 159.8 18 160 19.2 160.1 20.5 159.8 21.8 159.7 23 159.3 24.2 159.8 25.5 160 26.8 159.1 28 160.9 29.2 161.2 30.5 161.4 31.8 162 33 162.3 34.2 161.1 35.5 160.5 36.8 160.9 38 160.6 39.2 158.5 40.5 160.9 41.8 160.6 43 159.5 44.2 162.8 45.5 162.6 46.8 161.5 48 160.5 49.2 160.3 50.5 160.4 51.8 160.1 53 161.1 54.2 161.3 55.5 160.6 56.8 161.1 58 161.5 59.2 162.2 60.5 163.7 61.8 166.1 63 166 64.2 165.5 65.5 167.7 66.8 167.5 68 168.4 69.2 168.9 70.5 168.5 71.8 168.5 73 169.4 74.2 169.8 75.5 169.9 76.8 170.6 78 169.9 79.2 167.9 80.5 167.9 81.8 166.3 83 165.8 84.2 164.1 85.5 165.2 86.8 166.6 88 165.4 89.2 162.9 90.5 160.3 91.8 161 93 161.8 94.2 161.8 95.5 161.4 96.8 161.5 98 161.3 99.2 161.8 100.5 161 101.8 159.9 103 159.6 104.2 159.8 105.5 159.5 106.8 160.3 108 159.6 109.2 161 110.5 160.5 111.8 161.3 113 162.6 114.2 162.5 115.5 162.3 116.8 162.9 118 162.7 119.2 162.6 120.5 162 121.8 160.9 123 162.3 124.2 161.3 125.5 160.6 126.8 160.7 128 160.9 129.2 160.7 130.5 160.7 131.8 160.3 133 162.2 134.2 160.9 135.5 160.9 136.8 161.9 138 160.2 139.2 161.9 140.5 161.2 141.8 161.1 143 160.4 144.2 160.6 145.5 160.7 146.8 161.2 148 160 149.2 161.4 150.5 164.3 151.8 166.2 153 167.4 154.2 168 155.5 168.6 156.8 168.9 158 169.3 159.2 167.8 160.5 167.5 161.8 167.9 163 168.2 164.2 168.1 165.5 167 166.8 168.9 168 168.5 169.2 170.7 170.5 170.2 171.8 170.3 173 169.4 174.2 169 175.5 170.1 176.8 169.3 178 170.3 179.2 168.8 180.5 168.3 181.8 167.9 183 168 184.2 168.5 185.5 168.2 186.8 167.6 188 167.4 189.2 166.8 190.5 167 191.8 167.2 193 166.4 194.2 164.8 195.5 161.7 196.8 160.2 198 159.4 199.2 159.4 200.5 161 201.8 160.2 203 159.4 204.2 158.7 205.5 158.7 206.8 158.2 208 157.6 209.2 159.4 210.5 159.1 211.8 159.3 213 159.4 214.2 159.4 215.5 159.2 216.8 159.5 218 158.6 219.2 159.8 220.5 160.2 221.8 161.1 223 160 224.2 159.1 225.5 158.9 226.8 158.7 228 158.5 229.2 158.5 230.5 158.2 231.8 159.5 233 158.8 234.2 160.6 235.5 160.4 236.8 159.5 238 160.4 239.2 160.1 240.5 159.9 241.8 160 243 160.4 244.2 160.7 245.5 159.9 246.8 159.9 248 160 249.2 160.9 250.5 161.6 251.8 160.6 253 163.1 254.2 163.6 255.5 164.7 256.8 166.2 258 167.2 259.2 167.9 260.5 167.9 261.8 168.9 263 168.1 264.2 166.9 265.5 166.3 266.8 164.8 268 164.5 269.2 163.5 270.5 164.9 271.8 165.3 273 163.7 274.2 161.5 275.5 159.8 276.8 160.5 278 160.4 279.2 159.3 280.5 160.3 281.8 159.4 283 159 284.2 159.1 285.5 159.2 286.8 157.9 288 158.1 289.2 160 290.5 159.9 291.8 161 293 161.2 294.2 161.3 295.5 160.5 296.8 160.3 298 160.8 299.2 161.7 300.5 159.8 301.8 159.9 303 160 304.2 159.2 305.5 159.1 306.8 159.3 308 158.9 309.2 158.9 310.5 158.6 311.8 160 313 159.4 314.2 160.2 315.5 160.2 316.8 160.5 318 161.3 319.2 161.3 320.5 161.7 321.8 161 323 161.3 324.2 161.4 325.5 162.6 326.8 161.2 328 162.2 329.2 161.2 330.5 162 331.8 162 333 161.6 334.2 161.3 335.5 160.1 336.8 160 338 158.8 339.2 160.2 340.5 160.5 341.8 161.6 343 162.2 344.2 161.7 345.5 160.8 346.8 159.8 348 160 349.2 159.4 350.5 159 351.8 159.5 353 160.2 354.2 159.8 355.5 161.2 356.8 159.3 358 160.7 359.2 159.8 360.5 159.8 361.8 159.1 363 160.6 364.2 161.4 365.5 160.2 366.8 161.5 368 162 369.2 162.4 370.5 160 371.8 159.6 373 158.4 374.2 160.6 375.5 160.5 376.8 160 378 160.2 379.2 160 380.5 160.6 381.8 160.3 383 160.6 384.2 160.1 385.5 160.2 386.8 161.2 388 162.8 389.2 164.7 390.5 164.6 391.8 165.1 393 166.1 394.2 167.1 395.5 167.3 396.8 165.7 398 163.8 399.2 165.6 400.5 167 401.8 168.8 403 168.3 404.2 168 405.5 166.3 406.8 166.5 408 163.7 409.2 163.2 410.5 162 411.8 161.9 413 160.9 414.2 161.8 415.5 160.2 416.8 159.9 418 160.6 419.2 159.6 420.5 160.3 421.8 159.5 423 161 424.2 160.8 425.5 159.7 426.8 160.9 428 161.3 429.2 160.6 430.5 161 431.8 161.6 433 160.7 434.2 161.6 435.5 160.7 436.8 159.4 438 159.2 439.2 159.4 440.5 158.7 441.8 157.5 443 158.3 444.2 157.7 445.5 157.9 446.8 158.2 448 158.1 449.2 159.8 450.5 159.1 451.8 160.1 453 160.1 454.2 159.4 455.5 159.9 456.8 159.9 458 161.5 459.2 160.2 460.5 160.6 461.8 161.4 463 160.5 464.2 160.6 465.5 160.3 466.8 160.8 468 159.7 469.2 159 470.5 159.5 471.8 160.9 473 160.3 474.2 160 475.5 160.3 476.8 159.6 478 160.4 479.2 160 480.5 160.7 481.8 160.3 483 159.8 484.2 159.2 485.5 158.8 486.8 160.2 488 160.9 489.2 159.2 490.5 159.6 491.8 160.9 493 160.1 494.2 161.4 495.5 161.8 496.8 161.7 498 164.5 499.2 163.9 500.5 165.1 501.8 165.9 503 166.5 504.2 166.5 505.5 167.3 506.8 166.5 508 165.3 509.2 166.3 510.5 166.1 511.8 165.5 513 166.3 514.2 167.9 515.5 168.1 516.8 168.8 518 169.5 519.2 169.2 520.5 166.5 521.8 163.6 523 162.6 524.2 163.1 525.5 161 526.8 160.4 528 160.7 529.2 161.2 530.5 160.3 531.8 161 533 161.2 534.2 160.9 535.5 160.6 536.8 161.1 538 161.6 539.2 160.3 540.5 160.1 541.8 161 543 161 544.2 159.3 545.5 159.8 546.8 161.2 548 160 549.2 159.9 550.5 160.7 551.8 160.2 553 160.2 554.2 160.6 555.5 160.2 556.8 159.7 558 160.5 559.2 161.2 560.5 161.2 561.8 161 563 161 564.2 160.8 565.5 161.7 566.8 162.6 568 161.9 569.2 161.6 570.5 162.2 571.8 163.2 573 161.8 574.2 162.9 575.5 163 576.8 165 578 165.8 579.2 167.3 580.5 167 581.8 166.5 583 167 584.2 168.2 585.5 167.1 586.8 168.1 588 168.9 589.2 169 590.5 169.5 591.8 167.4 593 169.3 594.2 169.6 595.5 168.5 596.8 169.1 598 169 599.2 167.1 600.5 166.9 601.8 166.1 603 166.3 604.2 164.6 605.5 163 606.8 161.4 608 160.7 609.2 160.7 610.5 160.6 611.8 159.9 613 159.9 614.2 159.7 615.5 158.9 616.8 159.6 618 160.7 619.2 160.7 620.5 160.3 621.8 160.5 623 159.9 624.2 159.7 625.5 159.2 626.8 159.7 628 160.2 629.2 160.1 630.5 161.1 631.8 162.8 633 164.5 634.2 164.5 635.5 166.1 636.8 166.4 638 166.2 639.2 165.3 640.5 166.3 641.8 165.2 643 166.7 644.2 166.4 645.5 168 646.8 166.9 648 166.9 649.2 166.7 650.5 167.2 651.8 169.4 653 169.5 654.2 168.2 655.5 165.4 656.8 166.1 658 167 659.2 168.2 660.5 169.3 661.8 167.9 663 166.9 664.2 167.1 665.5 165.2 666.8 163.7 668 162.7 669.2 161.4 670.5 160.9 671.8 161.1 673 160.1 674.2 160.2 675.5 159.7 676.8 160.3 678 160.1 679.2 159.7 680.5 159.8 681.8 160.5 683 160.4 684.2 159.1 685.5 160.7 686.8 160.2 688 161.2 689.2 161.1 690.5 161.9 691.8 161.6 693 161.7 694.2 161.3 695.5 162.5 696.8 164.4" fill="none" stroke="#1e1e1e" stroke-width="0.9"/>
<rect x="5.5" y="138.9" width="56.3" height="2.5" fill="#1a1ad2"/>
<rect x="82.5" y="138.9" width="1.5" height="2.5" fill="#1a1ad2"/>
<rect x="87.4" y="138.9" width="63.4" height="2.5" fill="#1a1ad2"/>
<rect x="195.2" y="138.9" width="57.8" height="2.5" fill="#1a1ad2"/>
<rect x="267.6" y="138.9" width="1.6" height="2.5" fill="#1a1ad2"/>
<rect x="272.7" y="138.9" width="117" height="2.5" fill="#1a1ad2"/>
<rect x="396.2" y="138.9" width="3.1" height="2.5" fill="#1a1ad2"/>
<rect x="406.4" y="138.9" width="94.6" height="2.5" fill="#1a1ad2"/>
<rect x="521.4" y="138.9" width="54.6" height="2.5" fill="#1a1ad2"/>
<rect x="606.5" y="138.9" width="27.7" height="2.5" fill="#1a1ad2"/>
<rect x="655" y="138.9" width="1.5" height="2.5" fill="#1a1ad2"/>
<rect x="664.6" y="138.9" width="32.4" height="2.5" fill="#1a1ad2"/>
<g fill="#000"><rect x="5.5" y="143.8" width="55.9" height="2"/><rect x="19.4" y="145.5" width="1" height="2"/><rect x="19.7" y="145.5" width="1.3" height="2"/><rect x="22.7" y="145.5" width="2" height="2"/><rect x="27.5" y="145.5" width="2.5" height="2"/><rect x="31.5" y="145.5" width="1" height="2"/><rect x="35.1" y="145.5" width="2" height="2"/><rect x="36.6" y="145.5" width="3" height="2"/><rect x="40.7" y="145.5" width="1" height="2"/><rect x="46.3" y="145.5" width="1.6" height="2"/><rect x="49.9" y="145.5" width="0.8" height="2"/><rect x="51.2" y="145.5" width="0.8" height="2"/><rect x="55.3" y="145.5" width="0.8" height="2"/><rect x="87.9" y="143.8" width="62.9" height="2"/><rect x="98" y="145.5" width="2.5" height="2"/><rect x="108.9" y="145.5" width="1.3" height="2"/><rect x="109.2" y="145.5" width="1" height="2"/><rect x="110.8" y="145.5" width="1" height="2"/><rect x="111.8" y="145.5" width="1" height="2"/><rect x="117.7" y="145.5" width="3" height="2"/><rect x="118.3" y="145.5" width="2.5" height="2"/><rect x="121.8" y="145.5" width="1" height="2"/><rect x="123.2" y="145.5" width="1.3" height="2"/><rect x="128" y="145.5" width="1.6" height="2"/><rect x="128.5" y="145.5" width="2" height="2"/><rect x="133.4" y="145.5" width="1.6" height="2"/><rect x="134.2" y="145.5" width="0.8" height="2"/><rect x="138.4" y="145.5" width="3" height="2"/><rect x="145.9" y="145.5" width="1.6" height="2"/><rect x="148.8" y="145.5" width="1.3" height="2"/><rect x="195.5" y="143.8" width="58.4" height="2"/><rect x="198.2" y="145.5" width="3" height="2"/><rect x="202" y="145.5" width="2.5" height="2"/><rect x="208.7" y="145.5" width="0.8" height="2"/><rect x="218.2" y="145.5" width="0.8" height="2"/><rect x="220.1" y="145.5" width="0.8" height="2"/><rect x="232.5" y="145.5" width="0.8" height="2"/><rect x="273.5" y="143.8" width="116.2" height="2"/><rect x="276.7" y="145.5" width="1" height="2"/><rect x="277.6" y="145.5" width="1.6" height="2"/><rect x="279.9" y="145.5" width="1.6" height="2"/><rect x="290.6" y="145.5" width="2" height="2"/><rect x="296.2" y="145.5" width="0.8" height="2"/><rect x="296.5" y="145.5" width="1.6" height="2"/><rect x="299.5" y="145.5" width="1.3" height="2"/><rect x="299.8" y="145.5" width="1.3" height="2"/><rect x="303.4" y="145.5" width="0.8" height="2"/><rect x="304.3" y="145.5" width="1" height="2"/><rect x="308.4" y="145.5" width="0.8" height="2"/><rect x="325.1" y="145.5" width="1.6" height="2"/><rect x="329.4" y="145.5" width="1" height="2"/><rect x="330.1" y="145.5" width="2" height="2"/><rect x="330.6" y="145.5" width="1" height="2"/><rect x="335.5" y="145.5" width="0.8" height="2"/><rect x="336.5" y="145.5" width="1" height="2"/><rect x="345.5" y="145.5" width="1" height="2"/><rect x="347.4" y="145.5" width="1.3" height="2"/><rect x="348.5" y="145.5" width="1" height="2"/><rect x="353.4" y="145.5" width="1.6" height="2"/><rect x="354" y="145.5" width="1.6" height="2"/><rect x="355.8" y="145.5" width="1.3" height="2"/><rect x="366" y="145.5" width="3" height="2"/><rect x="369.3" y="145.5" width="1.6" height="2"/><rect x="388.1" y="145.5" width="0.8" height="2"/><rect x="406.4" y="143.8" width="94.6" height="2"/><rect x="407.2" y="145.5" width="0.8" height="2"/><rect x="409.7" y="145.5" width="1.6" height="2"/><rect x="410.1" y="145.5" width="1.6" height="2"/><rect x="416.8" y="145.5" width="1" height="2"/><rect x="423.7" y="145.5" width="1.6" height="2"/><rect x="424.7" y="145.5" width="1.6" height="2"/><rect x="425.7" y="145.5" width="3" height="2"/><rect x="430.8" y="145.5" width="0.8" height="2"/><rect x="434.4" y="145.5" width="1.3" height="2"/><rect x="434.9" y="145.5" width="3" height="2"/><rect x="437.8" y="145.5" width="1.3" height="2"/><rect x="441.9" y="145.5" width="3" height="2"/><rect x="445.7" y="145.5" width="1.3" height="2"/><rect x="450" y="145.5" width="2.5" height="2"/><rect x="463.6" y="145.5" width="3" height="2"/><rect x="464.3" y="145.5" width="3" height="2"/><rect x="472.2" y="145.5" width="2.5" height="2"/><rect x="481.9" y="145.5" width="1.6" height="2"/><rect x="522.3" y="143.8" width="53.7" height="2"/><rect x="526.1" y="145.5" width="1.6" height="2"/><rect x="533.6" y="145.5" width="0.8" height="2"/><rect x="534.6" y="145.5" width="2.5" height="2"/><rect x="537.4" y="145.5" width="3" height="2"/><rect x="542" y="145.5" width="1.3" height="2"/><rect x="543.1" y="145.5" width="1" height="2"/><rect x="544.4" y="145.5" width="1" height="2"/><rect x="550.4" y="145.5" width="2" height="2"/><rect x="555.8" y="145.5" width="3" height="2"/><rect x="561.7" y="145.5" width="3" height="2"/><rect x="567.1" y="145.5" width="1.3" height="2"/><rect x="567.9" y="145.5" width="1.6" height="2"/><rect x="571.6" y="145.5" width="2.5" height="2"/><rect x="606.9" y="143.8" width="27.3" height="2"/><rect x="609" y="145.5" width="1.3" height="2"/><rect x="609.7" y="145.5" width="3" height="2"/><rect x="610" y="145.5" width="0.8" height="2"/><rect x="612.1" y="145.5" width="1" height="2"/><rect x="612.8" y="145.5" width="3" height="2"/><rect x="620.2" y="145.5" width="1" height="2"/><rect x="629.5" y="145.5" width="1.3" height="2"/><rect x="664.6" y="143.8" width="32.4" height="2"/><rect x="666.3" y="145.5" width="1.3" height="2"/><rect x="666.6" y="145.5" width="0.8" height="2"/><rect x="670.1" y="145.5" width="3" height="2"/><rect x="676.4" y="145.5" width="0.8" height="2"/><rect x="681.7" y="145.5" width="3" height="2"/><rect x="686" y="145.5" width="2" height="2"/><rect x="687.2" y="145.5" width="3" height="2"/><rect x="695.5" y="145.5" width="1" height="2"/></g>
<rect x="5.5" y="137.5" width="692" height="39" fill="none" stroke="#3c3c3c" stroke-width="1"/>
<line x1="5.5" y1="176.5" x2="5.5" y2="179.5" stroke="#3c3c3c" stroke-width="1"/>
<text transform="translate(5.3 190.8) scale(0.85 1)" font-size="9.9" text-anchor="middle" fill="#111" stroke="#111" stroke-width="0.3">24</text>
<line x1="63.2" y1="176.5" x2="63.2" y2="179.5" stroke="#3c3c3c" stroke-width="1"/>
<text transform="translate(63 190.8) scale(0.85 1)" font-size="9.9" text-anchor="middle" fill="#111" stroke="#111" stroke-width="0.3">25</text>
<line x1="120.8" y1="176.5" x2="120.8" y2="179.5" stroke="#3c3c3c" stroke-width="1"/>
<text transform="translate(120.6 190.8) scale(0.85 1)" font-size="9.9" text-anchor="middle" fill="#111" stroke="#111" stroke-width="0.3">26</text>
<line x1="178.5" y1="176.5" x2="178.5" y2="179.5" stroke="#3c3c3c" stroke-width="1"/>
<text transform="translate(178.3 190.8) scale(0.85 1)" font-size="9.9" text-anchor="middle" fill="#111" stroke="#111" stroke-width="0.3">27</text>
<line x1="236.2" y1="176.5" x2="236.2" y2="179.5" stroke="#3c3c3c" stroke-width="1"/>
<text transform="translate(236 190.8) scale(0.85 1)" font-size="9.9" text-anchor="middle" fill="#111" stroke="#111" stroke-width="0.3">28</text>
<line x1="293.8" y1="176.5" x2="293.8" y2="179.5" stroke="#3c3c3c" stroke-width="1"/>
<text transform="translate(293.6 190.8) scale(0.85 1)" font-size="9.9" text-anchor="middle" fill="#111" stroke="#111" stroke-width="0.3">29</text>
<line x1="351.5" y1="176.5" x2="351.5" y2="179.5" stroke="#3c3c3c" stroke-width="1"/>
<text transform="translate(351.3 190.8) scale(0.85 1)" font-size="9.9" text-anchor="middle" fill="#111" stroke="#111" stroke-width="0.3">30</text>
<line x1="409.2" y1="176.5" x2="409.2" y2="179.5" stroke="#3c3c3c" stroke-width="1"/>
<text transform="translate(409 190.8) scale(0.85 1)" font-size="9.9" text-anchor="middle" fill="#111" stroke="#111" stroke-width="0.3">31</text>
<line x1="466.8" y1="176.5" x2="466.8" y2="179.5" stroke="#3c3c3c" stroke-width="1"/>
<text transform="translate(466.6 190.8) scale(0.85 1)" font-size="9.9" text-anchor="middle" fill="#111" stroke="#111" stroke-width="0.3">32</text>
<line x1="524.5" y1="176.5" x2="524.5" y2="179.5" stroke="#3c3c3c" stroke-width="1"/>
<text transform="translate(524.3 190.8) scale(0.85 1)" font-size="9.9" text-anchor="middle" fill="#111" stroke="#111" stroke-width="0.3">33</text>
<line x1="582.2" y1="176.5" x2="582.2" y2="179.5" stroke="#3c3c3c" stroke-width="1"/>
<text transform="translate(582 190.8) scale(0.85 1)" font-size="9.9" text-anchor="middle" fill="#111" stroke="#111" stroke-width="0.3">34</text>
<line x1="639.8" y1="176.5" x2="639.8" y2="179.5" stroke="#3c3c3c" stroke-width="1"/>
<text transform="translate(639.6 190.8) scale(0.85 1)" font-size="9.9" text-anchor="middle" fill="#111" stroke="#111" stroke-width="0.3">35</text>
<line x1="697.5" y1="176.5" x2="697.5" y2="179.5" stroke="#3c3c3c" stroke-width="1"/>
<text transform="translate(697.3 190.8) scale(0.85 1)" font-size="9.9" text-anchor="middle" fill="#111" stroke="#111" stroke-width="0.3">36</text>
<rect x="5.5" y="197.5" width="692" height="39" fill="#d7d7d7"/>
<path d="M6 225.4V228.7M7 223.2V228.2M8 224V228.5M9 223.1V230.3M10 225.1V229.6M11 225.4V228.5M12 223.1V227.4M13 225.6V228.6M14 226.6V228.8M15 227.4V231.3M16 225.8V232.5M17 227.5V230.5M18 225.6V232.2M19 224V229.5M20 225.4V229.3M21 228V231.2M22 227.8V230.3M23 223.5V230.7M24 227.5V231.2M25 227.9V233.5M26 229.5V233.2M27 227.9V232.4M28 223.7V235.6M29 227.6V232.7M30 222.2V233.3M31 225.8V229M32 224.5V226.8M33 223.6V226.2M34 224V226.7M35 223.5V226.6M36 223.5V230.4M37 224.2V228.1M38 222.6V227M39 219.2V229.4M40 221.8V228.3M41 221V224.2M42 218.4V225.6M43 215.8V223.5M44 219V222.8M45 218.4V224.7M46 220.8V223.7M47 220.6V223.4M48 220.4V226.8M49 220.8V228.5M50 222.9V229.7M51 220.4V230M52 223.7V228.9M53 225.1V227M54 221.6V225.9M55 221.8V225.6M56 221V225.8M57 221V227.3M58 217.9V225.1M59 217.6V227.1M60 221.9V230.4M61 223.3V228.9M62 223V227.7M63 224.1V227.1M64 221.2V228.3M65 221.3V228.7M66 221.9V226.3M67 222.1V227.2M68 221.8V228.7M69 223.6V227.1M70 223.7V228M71 224.2V227.6M72 224.6V230.9M73 224V228.9M74 222V234.3M75 228.4V233.1M76 228.3V231.3M77 227V234.3M78 228.7V233.3M79 229V232.9M80 229V235.9M81 227.5V234.3M82 220.1V235.1M83 229.4V233.3M84 224.4V231.3M85 226V231.4M86 228.2V232.3M87 227.1V235.6M88 226.8V233.3M89 221V229.7M90 222V228.6M91 223.8V229.9M92 221V224.1M93 221.2V223.6M94 219.1V225.7M95 220.4V226M96 216.5V226.9M97 221.1V225.5M98 220.6V225.5M99 219.5V225.7M100 221.1V224.3M101 220.1V224.8M102 219.4V225.1M103 218.1V224.3M104 221.8V223.6M105 220.8V223.9M106 221.1V223.1M107 218.5V222.4M108 217.8V224.3M109 220.3V226.9M110 220.5V224M111 218.3V223.7M112 220.8V226.2M113 222.2V226.7M114 223.5V227.3M115 220.4V227.1M116 223.4V231.1M117 221.4V230.8M118 223.6V229.6M119 225.3V229.8M120 225.5V229.8M121 227.2V230.2M122 221.8V229.3M123 222.6V227.1M124 222.2V227.8M125 224.1V227M126 222.8V227.4M127 223.3V232.3M128 223.4V226.5M129 224V232.1M130 223.1V227.1M131 223.6V228.9M132 223.3V228.8M133 222.7V233M134 219.4V227.4M135 222.4V225.4M136 221.8V227.7M137 223.4V228.3M138 220V225.4M139 222.2V225.6M140 221.4V225.6M141 223.1V225.2M142 222.5V230.7M143 220.6V226.3M144 222.1V228.6M145 218.8V224.8M146 221.9V225.7M147 221.8V227M148 223.1V226.6M149 222.8V226.6M150 224V227.3M151 217.5V228.3M152 221.1V230.6M153 223.8V229.1M154 224V227.3M155 220.5V227.5M156 221.6V229M157 223.3V229M158 222.3V227.1M159 220V226.7M160 223V226.5M161 217.9V225.7M162 220V224M163 218.9V225.1M164 221.7V224.5M165 220.4V227.5M166 223.6V229.5M167 221.3V225.9M168 223.9V229.8M169 222.1V230.9M170 223.5V229.7M171 226.8V234.5M172 227.6V231.4M173 226.5V231.5M174 227.2V230.1M175 228.8V230.4M176 226.7V232.1M177 229.1V231.1M178 227.8V231M179 227.7V231.7M180 230V236M181 224.5V233.3M182 229.3V232.7M183 226.8V232.3M184 227.5V234.6M185 225.1V234.1M186 230.4V233.8M187 229.6V233.4M188 228.2V233.8M189 229.9V232.9M190 227V233M191 225V233.9M192 229V231.5M193 227V231.2M194 229.1V232.1M195 226.5V233.6M196 228V231.9M197 226.5V232.8M198 223.8V231.7M199 228.3V231.5M200 225.6V231.3M201 226.5V231.3M202 225.3V231.6M203 225.2V231M204 226.7V229.9M205 225.9V229.7M206 225.1V229.8M207 226.4V229.4M208 224.5V228.2M209 225.8V232.6M210 224.4V232M211 225.4V230.9M212 225.8V232.3M213 224.5V227.3M214 219.6V225.3M215 218.3V223.1M216 217.5V223.3M217 220.9V222.5M218 219.8V226.5M219 220.1V231.6M220 220V224.7M221 218.5V226.3M222 219.5V227.7M223 220.1V224M224 220.1V222.4M225 218.2V226M226 216.8V227M227 216.2V223.2M228 219.5V222.1M229 218.3V221.2M230 217.9V222.1M231 217.3V223.4M232 219.4V226.6M233 219.8V221.9M234 217.9V224.4M235 220.2V223.9M236 220.5V222.7M237 219.9V224.4M238 219.6V225.4M239 217.9V228.5M240 215.3V223.7M241 218.1V224.4M242 221.4V223.6M243 221.8V224.9M244 221.4V225.1M245 222.2V225.9M246 221.8V226.5M247 222.1V227.5M248 220.5V224.8M249 218.3V225.8M250 217.9V222.7M251 220.2V223.4M252 220.7V228.1M253 220.6V224.8M254 218.1V222.8M255 217.3V223.5M256 220.1V230.1M257 220.3V223.3M258 221V227.7M259 222.3V227.9M260 224.1V226.5M261 224.8V227.7M262 220.8V228.7M263 223.2V232.7M264 220.1V226.7M265 219.3V226.5M266 219.4V226.9M267 216.3V223.4M268 219.3V224.1M269 222V227.4M270 221.6V228.6M271 221.7V224.7M272 220.8V225.8M273 220.4V228.3M274 222.5V228.7M275 222.2V227.6M276 220.8V224.5M277 221.5V228.3M278 222.7V225.6M279 217.9V225.3M280 222.8V229.2M281 221.6V224.9M282 222.2V225.6M283 223.1V227.9M284 223.1V230M285 220.9V226M286 222.7V228.3M287 226.1V228.4M288 224.8V236M289 224.8V231.3M290 228.2V230.6M291 227.8V232.5M292 226.9V233.7M293 226.5V230.7M294 225.8V232.5M295 224.1V231.5M296 223.6V230.9M297 227.2V232.2M298 222.5V230.7M299 227.9V230M300 226.4V230M301 227.2V231.2M302 228.3V231M303 226.5V229.6M304 223.3V230.6M305 225.1V230.9M306 223V227.9M307 225.2V227.6M308 221.9V230M309 226.6V229.7M310 227.4V230.6M311 227.7V234.8M312 229.7V234.2M313 229.6V232.3M314 225.6V233.4M315 230.5V232.5M316 228.5V236M317 225.7V232.7M318 224.6V233.7M319 229.1V232.9M320 224.3V233.6M321 228.2V232.7M322 229.5V233.5M323 227.1V236M324 228.5V232.3M325 229.6V232.2M326 228.5V234.2M327 230.3V234M328 226.2V233.4M329 230.3V232.4M330 230.2V233.7M331 229.3V233.7M332 227.6V231.3M333 223.8V233.8M334 225.4V233.6M335 227V230.3M336 225.5V230.8M337 224.2V234.4M338 227.1V233.4M339 227V234.4M340 222.2V229.9M341 224.8V228.9M342 222.5V229M343 222.3V227.9M344 220.9V225.6M345 221V223M346 218.3V232.9M347 219.3V222.8M348 219V224.6M349 218.5V223.3M350 219.8V228.4M351 217.3V223.3M352 220.1V222.3M353 219.7V224M354 218.7V223.4M355 219.4V225.7M356 219.4V223.6M357 220V227.7M358 220.7V223.7M359 221.1V225.7M360 220.4V226.8M361 217.1V225.1M362 221.7V226.4M363 219.1V223.3M364 221.3V225.7M365 218.3V223.7M366 219V224.8M367 219V226M368 221.9V226.4M369 219.9V224.2M370 222.1V225.5M371 223.4V227.7M372 221.2V226.1M373 221.8V230.5M374 220.7V228M375 223.4V227.8M376 221.3V229.9M377 224.4V231.1M378 225.6V233.2M379 225.5V230.8M380 227.7V230.4M381 227.1V233.7M382 228.1V231.2M383 227.5V233.4M384 228.4V233.1M385 227.9V233.1M386 228.7V232M387 229.5V232.1M388 228.9V233.4M389 225.6V231.2M390 225.2V231.9M391 224.4V232.3M392 229.4V232.5M393 228.6V231.4M394 227.4V231.3M395 229.4V234.1M396 227V233.2M397 228.3V231.6M398 226.2V231.7M399 227.6V229.4M400 226.6V232.3M401 225.4V231.9M402 224V229.8M403 224.3V230M404 221.5V227.8M405 223.8V229.7M406 226.9V234.2M407 225.4V232M408 228.6V231.3M409 224.7V231.2M410 226.9V230.9M411 222.5V229.6M412 226.3V228.8M413 224.5V229.3M414 223.9V227.7M415 223.3V226.2M416 220.1V227M417 223.7V227.9M418 218.8V226.3M419 220.5V228.3M420 221.6V224.3M421 222.2V226.1M422 220.6V228.4M423 219.2V223.4M424 219.9V223.5M425 220V226.3M426 220.9V227.6M427 219.5V226.2M428 219.7V222.3M429 216.3V222.1M430 215.8V226.2M431 218.9V222.7M432 215.5V224.3M433 215.2V222.3M434 219.2V221.6M435 218.6V222.5M436 215.6V221.8M437 218.6V227.7M438 220V223.9M439 220.4V225.4M440 219.9V226.3M441 220.4V231.1M442 222.3V225.9M443 220.3V227.3M444 222V228.5M445 220.9V228.9M446 219.4V225.1M447 217.4V226.1M448 219.3V224M449 216.2V222.8M450 219.7V228.9M451 218.9V223.2M452 220.1V228M453 216.6V226.1M454 220.6V224.8M455 221.4V225.2M456 219.8V231.2M457 221.2V223.6M458 219.7V225M459 221.9V225.5M460 218.8V226M461 221.5V227.7M462 222.9V225.8M463 223.2V227.2M464 222.9V227.3M465 224.9V232.8M466 224.5V228.3M467 224.8V227M468 221.3V226.8M469 222.5V229M470 220.9V224M471 221.2V227.9M472 216.7V224.5M473 221.1V225.3M474 220.2V223.9M475 221.5V225.4M476 219.8V223.8M477 220.7V226.9M478 220.5V226.1M479 220.3V224.5M480 221.8V225.3M481 219.7V224.6M482 223.1V224.8M483 220.1V224.4M484 221.5V229.2M485 222.8V225.6M486 220.1V225.3M487 220.8V224.8M488 220.8V227.7M489 221.5V224.6M490 220.1V227.9M491 220.1V223.6M492 217.1V227.5M493 221.2V228.2M494 222V226.8M495 223.4V229.3M496 222.7V226.3M497 225.4V228.3M498 222.8V231.9M499 220.6V228M500 225.4V228.8M501 225.3V232.6M502 225.1V230.7M503 225.4V230.8M504 222.4V230.2M505 224.1V230.3M506 227.7V230.5M507 229V231.5M508 230.1V231.6M509 222.7V234.3M510 225.2V233.8M511 229.5V234.1M512 229.2V233.4M513 227.5V235.4M514 231.3V236M515 227.7V234.2M516 227.3V236M517 226.4V232.3M518 226.2V231.4M519 229.1V232.2M520 228.9V233.3M521 229.9V236M522 224.3V232.7M523 230V231.5M524 224.9V234.5M525 227.2V231.8M526 223.8V230M527 227.5V229M528 226V231.4M529 223.3V229.7M530 221.1V231.3M531 221.9V230.3M532 223.8V230.2M533 223V231.5M534 222.2V226.8M535 221.4V232.8M536 219.8V223.5M537 218.5V225.5M538 220.8V225.7M539 220V224.4M540 220.5V225M541 220.2V224.1M542 220.2V226.3M543 217.5V224.2M544 218.6V228.8M545 216.3V223.7M546 217.1V222.7M547 214.5V223.5M548 216.4V223.2M549 219.3V223.6M550 217.5V225.3M551 219V223.5M552 215.7V223.3M553 215.8V222.2M554 215.9V221M555 215.9V220.7M556 217.4V219.7M557 215.5V225.7M558 218.4V222.8M559 218.5V227.6M560 215.5V224.3M561 217.7V227.4M562 218.5V223.4M563 219.4V223.3M564 219.1V222.2M565 217.5V226.9M566 217.9V228.5M567 210.1V222.2M568 220.5V224.7M569 215.8V223.2M570 218.7V224.3M571 219.8V224.5M572 219.2V226.2M573 218.8V226M574 220V225.2M575 220.7V223.8M576 220V228M577 219.6V222.8M578 217.9V223.7M579 220.7V225.5M580 219.2V222.5M581 217.2V223.6M582 217.7V223.1M583 219.5V227.2M584 217.8V223.9M585 219.7V224.2M586 218.1V226.7M587 221.2V227.5M588 219.8V224M589 218.6V223.3M590 218.2V223.2M591 218.1V222.9M592 220.4V223.9M593 220.9V223.4M594 220.3V223.4M595 218.7V224.5M596 220.6V223.2M597 219.7V224.3M598 220.6V224.1M599 218.1V226.2M600 220.2V224.6M601 219.6V226.4M602 220.3V226.1M603 220.4V224.5M604 220.9V225.7M605 222.7V228.4M606 224.4V231.2M607 225.6V229.6M608 226.4V229.3M609 225.4V231.7M610 228.2V231.3M611 225.5V231.1M612 224.2V228M613 221.9V227.9M614 222.1V226.1M615 221.3V226.5M616 221.4V224.1M617 219V223.1M618 218.1V222.9M619 218V223.8M620 217.2V226M621 220.4V224.1M622 220.4V228.8M623 221.5V225.5M624 222.1V224.8M625 219.1V228.8M626 219.9V226.4M627 222.5V229.9M628 220V225.2M629 217.6V226.3M630 220.4V223.3M631 217.6V222.4M632 219.9V228M633 219.6V223.7M634 217V225.4M635 217.6V221.4M636 219.9V225.4M637 216.4V226.8M638 214V222.6M639 218.9V226.5M640 218V223.3M641 215.6V222.6M642 220.4V229M643 220.3V225.8M644 223.5V227.9M645 225.6V228.6M646 227.8V231.5M647 223.8V229.4M648 226.8V233M649 226.8V230.9M650 226.7V230.7M651 219.5V230.8M652 224.9V229.1M653 224.7V228.8M654 223V228.3M655 222.8V230M656 221.4V228.5M657 223.4V226.4M658 222.9V229.8M659 222.6V224.5M660 220.7V230.8M661 221.5V224.2M662 220.5V225.7M663 220.3V228M664 217.6V224.9M665 220V225.7M666 219V223.6M667 220.9V223.1M668 219.3V225.5M669 220.2V225.8M670 218.7V224M671 220.7V225M672 220V228.4M673 220.5V223.5M674 219.3V223.3M675 218.4V223.2M676 217.9V224.7M677 218.7V226.9M678 218.8V226.5M679 219.6V224.6M680 217.6V221.8M681 219.7V225.7M682 219.4V222.5M683 218.2V222.1M684 216.5V224.8M685 218V221.4M686 220.3V224.6M687 217.2V221.8M688 219.5V224.9M689 218.8V223.9M690 218.4V222.2M691 216.5V222.4M692 215V221.2M693 218.9V221.6M694 216.2V224.7M695 219.5V222.6M696 222.2V227.6M697 222.4V231.7" fill="none" stroke="#b9b9b9" stroke-width="1"/>
<path d="M8 227.3V228.8M14.1 227.7V231.1M17.8 228.6V226.7M19.2 228.3V226.8M22.8 229.7V228.6M23.8 230.2V232.1M27 230V216.4M27.9 229.7V226.9M29 229.3V226.8M30.1 229V225.1M36.1 225.4V227.8M38.1 224.9V220.3M39.1 224.2V226.6M39.7 223.6V220.9M41 222.9V224.6M43.7 221.8V230.8M49 224.7V228.4M50.1 226.4V231.8M50.8 226.9V224.7M53.1 226.2V227.8M57.7 224.4V208.2M58.9 224.5V231M61.2 225.3V222M62.2 225.8V219.7M64.3 225.8V223.9M67.2 223.9V227.3M67.7 224.5V223.2M70.2 225.6V224.5M72 227.3V212.3M83.1 230V225.3M86.7 229.5V233.1M91.7 223V227.8M93.1 222.8V234.3M93.7 222.6V219.2M95.1 222.4V207.5M97.1 222.3V224.4M101 222.8V220.1M108.7 221.7V229.2M111.3 222.6V224.5M112.2 223V224.8M113.8 225V232.8M116.1 227.1V216.5M118 228.4V221.2M118.9 228.7V227.4M121.2 227.9V222.2M122.9 225.8V227.5M126.8 224.7V226.2M129 224.7V216.9M129.7 224.7V226M131 224.6V230.6M132.7 224.5V225.9M134.3 224.4V234.9M138 224.1V230.2M140.1 223.9V227.6M140.9 223.9V232M142 223.9V226.9M143.1 223.9V233.7M143.9 223.9V225.7M144.7 223.9V220.6M145.8 223.9V218.9M147 223.9V236M148.8 224.8V236M149.8 225.6V221.5M151.9 227.3V225.4M152.8 226.9V224.6M160 223.9V219.2M162 223V219.5M165.2 224V226.7M166.9 224.7V226.3M171.1 228.1V214.5M175.1 229.6V228.3M176.8 230.1V217.2M178.3 230.3V225M179 230.5V227.5M179.8 230.7V224.2M182.1 230.9V222.6M185.8 231.4V228.7M188.2 231.2V232.8M193.9 230V224.1M197.1 230.5V236M198.1 230.7V235.5M198.8 230.2V221.1M199.8 229.7V228M202.8 228.1V226.1M204.3 227.9V225.9M205.2 227.8V229.1M210.1 227.3V224.4M214.7 221.3V228.5M216.9 221.6V229.4M221.7 222.2V228.8M226 221.1V228.1M230.1 220.7V224M236 221.5V217.9M237.3 221.7V214.2M237.9 221.8V218.2M245 223.9V221.1M247.9 222.3V217.4M253.9 221.8V222.8M256.2 222V224.3M259 223.5V230.1M260.8 226V228.5M264.2 224.8V227.9M272.9 223.2V221.7M275.2 223.4V229.6M275.8 223.6V229.1M276.8 223.8V226.5M278.3 223.9V226.6M280.9 223.9V219.3M282.7 223.9V222.5M284.2 223.9V230.5M287 227.3V218.4M290 229.3V223.6M291.1 229.5V236M292.1 229.6V236M296 228.8V227M297.2 228.4V236M301.1 229.4V226.3M303.8 227.7V236M304.9 226.7V224.2M306.1 225.6V219.7M307.3 226.7V221.9M308.1 227.7V221.8M312.2 230.5V226.2M317.8 231.5V227.6M319.2 231.5V221.2M320.2 231.5V226.1M322.9 231.5V229.4M323.9 231.5V232.7M325.1 231.5V230.4M328.2 231.2V229.9M333.7 229.8V236M336.3 229V221.1M336.9 228.8V230.1M339.8 228.1V224.3M341 226.6V231.3M342.9 223.7V227.6M343.9 222.2V225.3M345.3 222V217.4M347.1 221.8V228.5M353.8 221.5V227.3M355.1 221.6V227.3M357.9 222V236M359.3 222.1V224.3M361.1 222.3V208.4M362.9 222.5V221.5M370.2 223.7V229.3M375.1 226.1V224.3M377.2 227.4V226.1M378.1 228.1V226.5M379.2 228.6V218.9M380.9 229.7V235.2M383.3 230.7V225.3M387.1 230.2V224.7M391.2 230V220.9M392.2 230.1V220.5M393.8 230.4V215.4M395 230.5V235.3M400.7 227.7V225.3M401.9 227.2V231.9M403.3 226.8V223.3M406.8 229V222.9M410.9 227.8V220.1M412.3 227.1V225.2M414.7 225.4V222.2M418.2 223.9V232.9M418.9 223.7V216.4M420.3 223.4V214M421.1 223.2V227M422.8 222.7V226.3M424 222.4V229.3M427.8 220.6V222.1M430.1 219.6V220.8M430.8 219.8V222.6M435.2 220.8V214.9M436.1 221.1V215.7M437.1 221.3V224.8M438.3 221.7V235.2M441.3 223V222M442.3 223.5V231.5M444.9 222.2V218.3M445.8 221.3V218.8M448 220.7V227.3M450.9 221.3V215.8M453.2 221.8V215.8M457.2 222.7V230.1M459.1 223.2V227.3M460.2 223.4V225.5M460.9 223.7V214.5M462 223.9V229.1M463 225V226.6M463.8 226.2V215.5M471.9 222.7V232.6M473.8 222.4V217.8M476.8 222.7V217.9M479.2 223.2V221.7M479.8 223.4V216.7M486.2 223.3V218.1M491 222.5V216.5M491.8 222.4V213M494.8 224.3V213.1M497.1 226.4V236M502 228.1V222.9M509.2 231V229.8M514.7 231.7V229.8M515.8 231.4V233.1M516.8 231V236M518.8 230.9V223.3M520 231.1V228.9M520.7 231.3V224.7M522.8 230.8V219.7M524.3 230.1V227.6M531.3 227.5V221.3M532.3 227.3V225.1M533.1 225.6V224.5M534 223.9V221M540.2 222.2V228.8M541.9 222.2V223.9M542.8 221.9V225.3M543.8 221.6V226.2M545.2 221.3V218.9M547 220.8V224.7M552.2 219.5V222M558.3 219.5V218M559.2 219.7V229.2M561.2 220.2V222M564.3 220.8V224M569.3 221.4V218.2M570.1 221.6V230.9M570.8 221.7V218.2M571.8 221.8V224.3M573.2 221.9V220.3M573.8 222.1V220.9M576.3 222V223.3M578.2 221.7V219.1M578.8 221.5V215.9M580.1 221.3V223M582.8 221.3V224.2M584.1 221.4V222.8M589.2 222.1V219.9M591.7 222V220.6M594.7 221.6V219.3M599.7 222V224.3M601.8 222.7V214.7M602.8 223V217.7M607 228.1V224.1M608 228.4V221.3M616.3 222.6V224.4M617 221.3V229.4M620.2 221.8V224.2M620.8 222V220.2M623.2 223V220.5M623.7 223.9V219.2M624.8 224.7V225.7M626.9 223.3V226.4M628.1 222.7V227.4M633.9 220.8V222.9M635.9 220.6V223.7M639.8 221.3V220.2M641.2 221.6V236M641.8 221.9V223M643 222.2V218.3M644.9 226.7V220M647.1 228.6V220.8M647.8 228.2V223.9M648.7 227.7V222.9M653 226.8V225.2M654 226.6V234.6M658.2 224.4V228.3M660.3 223V220.2M660.8 222.8V226.3M663 222.4V220.8M664.9 221.9V227.2M665.8 221.7V225.2M666.9 221.5V224.4M669.2 221.4V227.5M677 221.7V223M678.1 221.5V234.7M679.7 221V225.6M681.9 220.5V224.4M682.8 220.6V222.1M684.1 220.7V228.3M684.8 220.8V222.9M686.3 220.9V228.2M691.2 220.9V216.3M694.1 219.6V217.5M695.2 221.3V224.1" fill="none" stroke="#a4a4a4" stroke-width="0.6"/>
<line x1="5.5" y1="225.2" x2="697.5" y2="225.2" stroke="#e67e78" stroke-width="1"/>
<path d="M5.5 228 6.8 228.6 8 227 9.2 227.1 10.5 226.5 11.8 226.9 13 227.4 14.2 227 15.5 229 16.8 228.5 18 228.6 19.2 228.2 20.5 228.2 21.8 228.9 23 229.7 24.2 230.6 25.5 230.8 26.8 231 28 229.5 29.2 230 30.5 227.9 31.8 226.9 33 224.5 34.2 225.3 35.5 225 36.8 225.2 38 225.9 39.2 223.4 40.5 223.8 41.8 223.4 43 221.5 44.2 221.3 45.5 221 46.8 221.9 48 223.2 49.2 225 50.5 226 51.8 226.4 53 226.1 54.2 225.1 55.5 224.3 56.8 224.7 58 224.7 59.2 224.2 60.5 224.9 61.8 226.3 63 226.5 64.2 225.9 65.5 225.4 66.8 224 68 225.2 69.2 225.6 70.5 226 71.8 227.3 73 227.9 74.2 229.6 75.5 229.4 76.8 229.9 78 230.4 79.2 231.5 80.5 230.7 81.8 231.8 83 229.8 84.2 229.4 85.5 229.9 86.8 229.3 88 230.4 89.2 227.8 90.5 225.4 91.8 223 93 222.2 94.2 222.8 95.5 221.2 96.8 221.9 98 222.3 99.2 222.4 100.5 223.2 101.8 223.1 103 222.6 104.2 223.8 105.5 222.6 106.8 220.8 108 220.9 109.2 222.8 110.5 221.5 111.8 222.5 113 223.9 114.2 225.2 115.5 226.5 116.8 227.2 118 228.5 119.2 228.6 120.5 227.9 121.8 227.2 123 226.1 124.2 223 125.5 224.5 126.8 225.2 128 224.9 129.2 224.7 130.5 224.3 131.8 224.7 133 223.5 134.2 225 135.5 224.2 136.8 224.6 138 224.3 139.2 225.7 140.5 223.1 141.8 224.3 143 223.3 144.2 222.6 145.5 224.4 146.8 223.5 148 223.9 149.2 224.8 150.5 226.3 151.8 227.1 153 226.6 154.2 226.3 155.5 224.9 156.8 225.4 158 224.4 159.2 224.2 160.5 224.2 161.8 223.1 163 223.6 164.2 223.8 165.5 224.4 166.8 224 168 225.9 169.2 226.6 170.5 228.1 171.8 228.7 173 229.6 174.2 229.6 175.5 228.8 176.8 230.7 178 230.3 179.2 231.7 180.5 230.3 181.8 230.9 183 231.5 184.2 231.8 185.5 231.7 186.8 232 188 232.1 189.2 230.5 190.5 229.9 191.8 230.1 193 229.6 194.2 230.4 195.5 231.2 196.8 231.1 198 230.4 199.2 231 200.5 229.1 201.8 228.8 203 228.7 204.2 228.6 205.5 228.9 206.8 226.8 208 227.9 209.2 227.4 210.5 226.9 211.8 227.5 213 225 214.2 222.2 215.5 221.6 216.8 220.3 218 221.8 219.2 221.3 220.5 221.8 221.8 223.4 223 222.3 224.2 220.6 225.5 222.5 226.8 220.9 228 221.1 229.2 220.3 230.5 219.9 231.8 221.8 233 221 234.2 220.9 235.5 221.6 236.8 220.6 238 222.3 239.2 221.7 240.5 223.5 241.8 222.4 243 223 244.2 222.8 245.5 224 246.8 223.7 248 222.9 249.2 222.4 250.5 221.8 251.8 222.9 253 221.2 254.2 222.6 255.5 220.8 256.8 222.1 258 222.7 259.2 224 260.5 225.6 261.8 227.2 263 225 264.2 224.1 265.5 223.6 266.8 221.6 268 222.2 269.2 222.4 270.5 223.2 271.8 223.1 273 223.6 274.2 223.3 275.5 223.7 276.8 223.4 278 224.3 279.2 223.5 280.5 224.4 281.8 224 283 225.1 284.2 223.6 285.5 225.6 286.8 227.1 288 229.1 289.2 230 290.5 229.8 291.8 229.4 293 229.8 294.2 229.2 295.5 228.6 296.8 228.1 298 227.4 299.2 228.5 300.5 229 301.8 229.2 303 229 304.2 227.4 305.5 225.1 306.8 226.5 308 227.4 309.2 229.8 310.5 230.1 311.8 230.8 313 230.2 314.2 230.9 315.5 230.4 316.8 231.9 318 231.9 319.2 230.4 320.5 230.4 321.8 230.8 323 231 324.2 231.1 325.5 231.3 326.8 231.1 328 231.2 329.2 231.1 330.5 230.6 331.8 231.6 333 230 334.2 229.9 335.5 229.4 336.8 229.2 338 228.2 339.2 227.8 340.5 227.7 341.8 226.4 343 224 344.2 222 345.5 221.2 346.8 222.3 348 221.3 349.2 221.6 350.5 220.8 351.8 221.7 353 220.7 354.2 221.4 355.5 220.9 356.8 221.2 358 222.3 359.2 221.9 360.5 222.1 361.8 222.1 363 223.3 364.2 222.7 365.5 222.1 366.8 222.8 368 222.8 369.2 223.3 370.5 224.5 371.8 224.4 373 224.4 374.2 225.7 375.5 226.2 376.8 227 378 228.3 379.2 229.5 380.5 229.5 381.8 229.8 383 231.8 384.2 230.2 385.5 229.8 386.8 230.9 388 230.4 389.2 229.3 390.5 230.3 391.8 230.1 393 230.7 394.2 230.2 395.5 231.5 396.8 230 398 229.8 399.2 229.2 400.5 227.1 401.8 227.5 403 226.2 404.2 227.1 405.5 227.4 406.8 228.4 408 230.1 409.2 229.5 410.5 228.9 411.8 227.2 413 226.4 414.2 225.4 415.5 224.8 416.8 225.2 418 223.5 419.2 222.8 420.5 222.7 421.8 223.4 423 222.7 424.2 222.3 425.5 222.4 426.8 220 428 220.2 429.2 219.4 430.5 220.1 431.8 219.8 433 221.3 434.2 220.9 435.5 220.4 436.8 221.6 438 221.8 439.2 221.7 440.5 223.3 441.8 224.3 443 224.3 444.2 221.7 445.5 222.7 446.8 220.8 448 220.9 449.2 220.2 450.5 222.2 451.8 221.8 453 222.2 454.2 221.8 455.5 222 456.8 223.6 458 222.8 459.2 222.3 460.5 222.7 461.8 223.8 463 226 464.2 227.2 465.5 226.9 466.8 226.5 468 223.9 469.2 224.1 470.5 224 471.8 222.4 473 223.2 474.2 222.5 475.5 223 476.8 222.2 478 223.9 479.2 223.5 480.5 223.9 481.8 223.7 483 222.6 484.2 223.8 485.5 223.6 486.8 224.5 488 223.3 489.2 222.9 490.5 222.6 491.8 223.3 493 222 494.2 223.2 495.5 224.3 496.8 226.5 498 226.1 499.2 226.6 500.5 228 501.8 228.4 503 228.8 504.2 228.9 505.5 228.7 506.8 229.6 508 230.6 509.2 230.3 510.5 231.5 511.8 230.8 513 231.4 514.2 232.1 515.5 230.9 516.8 231.1 518 230.9 519.2 230 520.5 231.4 521.8 232.1 523 230.6 524.2 230.1 525.5 227.8 526.8 228.7 528 227.8 529.2 228.6 530.5 228.2 531.8 227.6 533 225 534.2 223 535.5 221.8 536.8 223.3 538 222.5 539.2 222 540.5 221.2 541.8 222.2 543 221.8 544.2 222.3 545.5 220.5 546.8 220.9 548 219.8 549.2 220.4 550.5 219.7 551.8 219 553 219.3 554.2 219 555.5 220 556.8 218.6 558 219.8 559.2 219.6 560.5 220.6 561.8 219.9 563 221.6 564.2 220.5 565.5 221.6 566.8 221.2 568 220.9 569.2 221.9 570.5 220.7 571.8 222.2 573 221.4 574.2 221.7 575.5 222.7 576.8 222.1 578 221.8 579.2 221.8 580.5 221.4 581.8 221.1 583 220.7 584.2 221.8 585.5 221.7 586.8 222.6 588 221.8 589.2 221.8 590.5 221.3 591.8 222.6 593 222.7 594.2 222.1 595.5 222.1 596.8 221.9 598 220.7 599.2 221.5 600.5 221.6 601.8 223.2 603 223.4 604.2 224.2 605.5 227.4 606.8 227.8 608 228.1 609.2 228.5 610.5 228.6 611.8 226.8 613 227.6 614.2 224.9 615.5 223 616.8 221.6 618 221.5 619.2 221.9 620.5 222.3 621.8 222.8 623 223.3 624.2 223.7 625.5 223.9 626.8 222.5 628 222.1 629.2 222.6 630.5 221.9 631.8 221.8 633 220.4 634.2 221.3 635.5 221.2 636.8 220.7 638 221.2 639.2 221.2 640.5 220.9 641.8 220.8 643 221.3 644.2 225.1 645.5 228.1 646.8 229.1 648 228.5 649.2 227.7 650.5 226.7 651.8 227.5 653 227.2 654.2 227.6 655.5 227.1 656.8 225.4 658 224 659.2 222.8 660.5 222.8 661.8 222.8 663 222.5 664.2 223 665.5 222.2 666.8 222.1 668 221.3 669.2 221.7 670.5 222.7 671.8 222 673 221.5 674.2 221.3 675.5 222.9 676.8 221.8 678 221.9 679.2 220.6 680.5 220.7 681.8 220.8 683 220 684.2 220.3 685.5 220.4 686.8 221.1 688 219.9 689.2 221 690.5 220.7 691.8 220.3 693 220.7 694.2 220.3 695.5 221.8 696.8 224.7" fill="none" stroke="#1e1e1e" stroke-width="0.9"/>
<rect x="32.1" y="198.9" width="2.9" height="2.5" fill="#1a1ad2"/>
<rect x="36.7" y="198.9" width="14.2" height="2.5" fill="#1a1ad2"/>
<rect x="53.8" y="198.9" width="9.3" height="2.5" fill="#1a1ad2"/>
<rect x="66.2" y="198.9" width="3.8" height="2.5" fill="#1a1ad2"/>
<rect x="92.2" y="198.9" width="21.3" height="2.5" fill="#1a1ad2"/>
<rect x="123.9" y="198.9" width="26.1" height="2.5" fill="#1a1ad2"/>
<rect x="157.3" y="198.9" width="10.6" height="2.5" fill="#1a1ad2"/>
<rect x="213.6" y="198.9" width="48.5" height="2.5" fill="#1a1ad2"/>
<rect x="265.5" y="198.9" width="21.2" height="2.5" fill="#1a1ad2"/>
<rect x="343.5" y="198.9" width="31.9" height="2.5" fill="#1a1ad2"/>
<rect x="415.8" y="198.9" width="48" height="2.5" fill="#1a1ad2"/>
<rect x="468.9" y="198.9" width="27.8" height="2.5" fill="#1a1ad2"/>
<rect x="533.7" y="198.9" width="70.6" height="2.5" fill="#1a1ad2"/>
<rect x="611.2" y="198.9" width="33.2" height="2.5" fill="#1a1ad2"/>
<rect x="656.7" y="198.9" width="40.3" height="2.5" fill="#1a1ad2"/>
<g fill="#000"><rect x="35.8" y="203.8" width="15.1" height="2"/><rect x="36.7" y="205.5" width="1" height="2"/><rect x="38.7" y="205.5" width="1.3" height="2"/><rect x="43.9" y="205.5" width="2.5" height="2"/><rect x="47.2" y="205.5" width="0.8" height="2"/><rect x="54.3" y="203.8" width="8.8" height="2"/><rect x="55.2" y="205.5" width="1.6" height="2"/><rect x="58.9" y="205.5" width="1.6" height="2"/><rect x="66.2" y="203.8" width="4.6" height="2"/><rect x="66.8" y="205.5" width="2" height="2"/><rect x="93.5" y="203.8" width="22.5" height="2"/><rect x="99.2" y="205.5" width="2.5" height="2"/><rect x="102" y="205.5" width="1" height="2"/><rect x="111.2" y="205.5" width="2" height="2"/><rect x="111.9" y="205.5" width="0.8" height="2"/><rect x="113" y="205.5" width="1.6" height="2"/><rect x="124.9" y="203.8" width="25.1" height="2"/><rect x="126.6" y="205.5" width="0.8" height="2"/><rect x="135.5" y="205.5" width="0.8" height="2"/><rect x="135.9" y="205.5" width="1.3" height="2"/><rect x="144.5" y="205.5" width="0.8" height="2"/><rect x="144.6" y="205.5" width="3" height="2"/><rect x="145.9" y="205.5" width="2" height="2"/><rect x="157.7" y="203.8" width="9.9" height="2"/><rect x="159.1" y="205.5" width="0.8" height="2"/><rect x="160.4" y="205.5" width="1.3" height="2"/><rect x="162.9" y="205.5" width="3" height="2"/><rect x="213.1" y="203.8" width="49" height="2"/><rect x="220.8" y="205.5" width="2" height="2"/><rect x="222.4" y="205.5" width="3" height="2"/><rect x="223.6" y="205.5" width="3" height="2"/><rect x="223.6" y="205.5" width="2" height="2"/><rect x="225.2" y="205.5" width="1" height="2"/><rect x="242.3" y="205.5" width="0.8" height="2"/><rect x="251.7" y="205.5" width="2.5" height="2"/><rect x="252.4" y="205.5" width="2" height="2"/><rect x="253.7" y="205.5" width="3" height="2"/><rect x="256" y="205.5" width="3" height="2"/><rect x="256.3" y="205.5" width="0.8" height="2"/><rect x="265.8" y="203.8" width="20.5" height="2"/><rect x="266.7" y="205.5" width="1" height="2"/><rect x="272.5" y="205.5" width="2.5" height="2"/><rect x="274.3" y="205.5" width="2" height="2"/><rect x="276.9" y="205.5" width="1.3" height="2"/><rect x="343.5" y="203.8" width="31.9" height="2"/><rect x="345.2" y="205.5" width="2.5" height="2"/><rect x="347.9" y="205.5" width="0.8" height="2"/><rect x="357.6" y="205.5" width="1.6" height="2"/><rect x="358.5" y="205.5" width="2.5" height="2"/><rect x="366.5" y="205.5" width="2" height="2"/><rect x="368.1" y="205.5" width="0.8" height="2"/><rect x="368.2" y="205.5" width="1" height="2"/><rect x="369.9" y="205.5" width="2" height="2"/><rect x="371.8" y="205.5" width="0.8" height="2"/><rect x="416.3" y="203.8" width="47.5" height="2"/><rect x="422.7" y="205.5" width="3" height="2"/><rect x="429" y="205.5" width="2" height="2"/><rect x="429.7" y="205.5" width="1.6" height="2"/><rect x="432.1" y="205.5" width="3" height="2"/><rect x="469.4" y="203.8" width="27.8" height="2"/><rect x="471.1" y="205.5" width="2" height="2"/><rect x="474" y="205.5" width="1.6" height="2"/><rect x="474.2" y="205.5" width="1.6" height="2"/><rect x="476.4" y="205.5" width="2" height="2"/><rect x="479.4" y="205.5" width="1.3" height="2"/><rect x="493.8" y="205.5" width="2" height="2"/><rect x="533.7" y="203.8" width="70.6" height="2"/><rect x="537.9" y="205.5" width="0.8" height="2"/><rect x="539.6" y="205.5" width="3" height="2"/><rect x="541.5" y="205.5" width="1.3" height="2"/><rect x="545" y="205.5" width="1.6" height="2"/><rect x="548.2" y="205.5" width="1" height="2"/><rect x="549.7" y="205.5" width="1.6" height="2"/><rect x="550.4" y="205.5" width="3" height="2"/><rect x="558.8" y="205.5" width="2" height="2"/><rect x="558.9" y="205.5" width="3" height="2"/><rect x="562.5" y="205.5" width="1" height="2"/><rect x="568.6" y="205.5" width="3" height="2"/><rect x="573.2" y="205.5" width="3" height="2"/><rect x="573.4" y="205.5" width="2" height="2"/><rect x="573.6" y="205.5" width="1.3" height="2"/><rect x="576.3" y="205.5" width="1.3" height="2"/><rect x="576.8" y="205.5" width="2" height="2"/><rect x="584.3" y="205.5" width="1.3" height="2"/><rect x="584.5" y="205.5" width="2" height="2"/><rect x="611.7" y="203.8" width="31.9" height="2"/><rect x="613.5" y="205.5" width="0.8" height="2"/><rect x="614.1" y="205.5" width="0.8" height="2"/><rect x="615.1" y="205.5" width="3" height="2"/><rect x="617.6" y="205.5" width="1.6" height="2"/><rect x="627.9" y="205.5" width="3" height="2"/><rect x="628.6" y="205.5" width="2.5" height="2"/><rect x="633.4" y="205.5" width="2" height="2"/><rect x="634.4" y="205.5" width="2.5" height="2"/><rect x="640.8" y="205.5" width="1.3" height="2"/><rect x="655.5" y="203.8" width="41.5" height="2"/><rect x="658.5" y="205.5" width="1.3" height="2"/><rect x="666.4" y="205.5" width="0.8" height="2"/><rect x="669.3" y="205.5" width="0.8" height="2"/><rect x="672.4" y="205.5" width="3" height="2"/><rect x="673.2" y="205.5" width="2.5" height="2"/><rect x="676.5" y="205.5" width="1" height="2"/><rect x="680.4" y="205.5" width="2.5" height="2"/><rect x="685.8" y="205.5" width="2.5" height="2"/><rect x="691.8" y="205.5" width="2.5" height="2"/></g>
<rect x="5.5" y="197.5" width="692" height="39" fill="none" stroke="#3c3c3c" stroke-width="1"/>
<line x1="5.5" y1="236.5" x2="5.5" y2="239.5" stroke="#3c3c3c" stroke-width="1"/>
<text transform="translate(5.3 250.8) scale(0.85 1)" font-size="9.9" text-anchor="middle" fill="#111" stroke="#111" stroke-width="0.3">36</text>
<line x1="63.2" y1="236.5" x2="63.2" y2="239.5" stroke="#3c3c3c" stroke-width="1"/>
<text transform="translate(63 250.8) scale(0.85 1)" font-size="9.9" text-anchor="middle" fill="#111" stroke="#111" stroke-width="0.3">37</text>
<line x1="120.8" y1="236.5" x2="120.8" y2="239.5" stroke="#3c3c3c" stroke-width="1"/>
<text transform="translate(120.6 250.8) scale(0.85 1)" font-size="9.9" text-anchor="middle" fill="#111" stroke="#111" stroke-width="0.3">38</text>
<line x1="178.5" y1="236.5" x2="178.5" y2="239.5" stroke="#3c3c3c" stroke-width="1"/>
<text transform="translate(178.3 250.8) scale(0.85 1)" font-size="9.9" text-anchor="middle" fill="#111" stroke="#111" stroke-width="0.3">39</text>
<line x1="236.2" y1="236.5" x2="236.2" y2="239.5" stroke="#3c3c3c" stroke-width="1"/>
<text transform="translate(236 250.8) scale(0.85 1)" font-size="9.9" text-anchor="middle" fill="#111" stroke="#111" stroke-width="0.3">40</text>
<line x1="293.8" y1="236.5" x2="293.8" y2="239.5" stroke="#3c3c3c" stroke-width="1"/>
<text transform="translate(293.6 250.8) scale(0.85 1)" font-size="9.9" text-anchor="middle" fill="#111" stroke="#111" stroke-width="0.3">41</text>
<line x1="351.5" y1="236.5" x2="351.5" y2="239.5" stroke="#3c3c3c" stroke-width="1"/>
<text transform="translate(351.3 250.8) scale(0.85 1)" font-size="9.9" text-anchor="middle" fill="#111" stroke="#111" stroke-width="0.3">42</text>
<line x1="409.2" y1="236.5" x2="409.2" y2="239.5" stroke="#3c3c3c" stroke-width="1"/>
<text transform="translate(409 250.8) scale(0.85 1)" font-size="9.9" text-anchor="middle" fill="#111" stroke="#111" stroke-width="0.3">43</text>
<line x1="466.8" y1="236.5" x2="466.8" y2="239.5" stroke="#3c3c3c" stroke-width="1"/>
<text transform="translate(466.6 250.8) scale(0.85 1)" font-size="9.9" text-anchor="middle" fill="#111" stroke="#111" stroke-width="0.3">44</text>
<line x1="524.5" y1="236.5" x2="524.5" y2="239.5" stroke="#3c3c3c" stroke-width="1"/>
<text transform="translate(524.3 250.8) scale(0.85 1)" font-size="9.9" text-anchor="middle" fill="#111" stroke="#111" stroke-width="0.3">45</text>
<line x1="582.2" y1="236.5" x2="582.2" y2="239.5" stroke="#3c3c3c" stroke-width="1"/>
<text transform="translate(582 250.8) scale(0.85 1)" font-size="9.9" text-anchor="middle" fill="#111" stroke="#111" stroke-width="0.3">46</text>
<line x1="639.8" y1="236.5" x2="639.8" y2="239.5" stroke="#3c3c3c" stroke-width="1"/>
<text transform="translate(639.6 250.8) scale(0.85 1)" font-size="9.9" text-anchor="middle" fill="#111" stroke="#111" stroke-width="0.3">47</text>
<line x1="697.5" y1="236.5" x2="697.5" y2="239.5" stroke="#3c3c3c" stroke-width="1"/>
<text transform="translate(697.3 250.8) scale(0.85 1)" font-size="9.9" text-anchor="middle" fill="#111" stroke="#111" stroke-width="0.3">48</text>
<rect x="5.5" y="82" width="1.2" height="1.5" fill="#000"/><rect x="5.5" y="84" width="2" height="1.8" fill="#000"/><rect x="5.5" y="204" width="2.3" height="2" fill="#000"/>
<line x1="330.3" y1="200" x2="330.3" y2="232" stroke="#7a7a7a" stroke-width="0.8"/>
<text x="332.8" y="273" font-size="11.1" fill="#111">Time [h]</text>
<rect x="552.5" y="272.5" width="143" height="54" fill="#fff" stroke="#444" stroke-width="1"/>
<rect x="569" y="282.6" width="23" height="2.2" fill="#1a1ad2"/>
<path d="M569 288 H572 V290.4 H573 V288 H576.3 V290.4 H578 V288 H580.7 V290.4 H585.5 V288 H591.8" fill="none" stroke="#000" stroke-width="1.5"/>
<text x="562.6" y="288.6" font-size="4.6" fill="#000" stroke="#000" stroke-width="0.35">N</text>
<text x="565.4" y="293.6" font-size="4.6" fill="#000" stroke="#000" stroke-width="0.35">R</text>
<rect x="607" y="283" width="6.3" height="2" fill="#1a1ad2"/>
<rect x="609" y="287" width="4.3" height="1.8" fill="#000"/>
<path d="M569.5 298.2V304.9M570.5 302.2V305.3M571.5 300.3V306.9M572.5 302.3V304.6M573.5 300.8V305.9M574.5 299.5V308.7M575.5 301.3V305.2M576.5 300.4V305.2M577.5 299.3V307.1M578.5 301.3V305.7M579.5 301.1V307.4M580.5 299.8V305.7M581.5 302.4V305.6M582.5 300.3V309.6M583.5 303.4V305.2M584.5 303.3V307.7M585.5 303.9V311.3M586.5 301.8V311.3M587.5 302.9V308.8M588.5 303.8V309M589.5 302.4V307.4M590.5 303.9V312.8M591.5 306.2V308.8M592.5 306.7V310.6M593.5 307.8V312.9M594.5 306.3V311.4M595.5 308.2V311.4M596.5 305.8V310.9M597.5 309.1V311.5M598.5 308V312.3M599.5 309.2V311.9M600.5 307.5V317.3M601.5 307.6V312.9M602.5 305.9V311.4M603.5 305.4V313.2M604.5 307.4V313.6M605.5 307V310.8M606.5 306.7V312.3M607.5 306.2V309.2M608.5 305.2V309.4M609.5 304.9V308.1M610.5 303V309.5M611.5 305.1V308.3M612.5 303.9V308.8" fill="none" stroke="#cecece" stroke-width="1"/>
<path d="M571.5 303.5V306M572.5 303.5V304.7M581.5 304V302.2M585.5 305.2V306.7M589.5 306.8V305.3M591.5 307.8V303.9M596.5 310V311.8M598.5 310V311.8M604.5 309.7V307.8M606.5 308.6V303M611.5 305.8V309.1" fill="none" stroke="#b4b4b4" stroke-width="0.6"/>
<line x1="569" y1="308.4" x2="613.3" y2="308.4" stroke="#e67e78" stroke-width="1"/>
<path d="M569 303.7 572 303.2 575 304 578 303.5 581 304.3 584 305.2 588 306.7 592 308.6 595 310 598 310.4 601 310.9 603 310.2 606 308.6 609 306.5 612 304.5 613.3 304.3" fill="none" stroke="#1e1e1e" stroke-width="0.9"/>
<text x="616.5" y="284.2" font-size="7.5" fill="#2b2bf0">piezo sleep</text>
<text x="616.5" y="291.6" font-size="7.5" fill="#111">EEG sleep</text>
<text x="616.5" y="300.7" font-size="7.5" fill="#8a8a8a">4sec decision statistic</text>
<text x="616.5" y="308.3" font-size="7.5" fill="#111">4min decision statistic</text>
<text x="616.5" y="316.2" font-size="7.5" fill="#e03030">S/W threshold</text>
</svg>
</body></html>
